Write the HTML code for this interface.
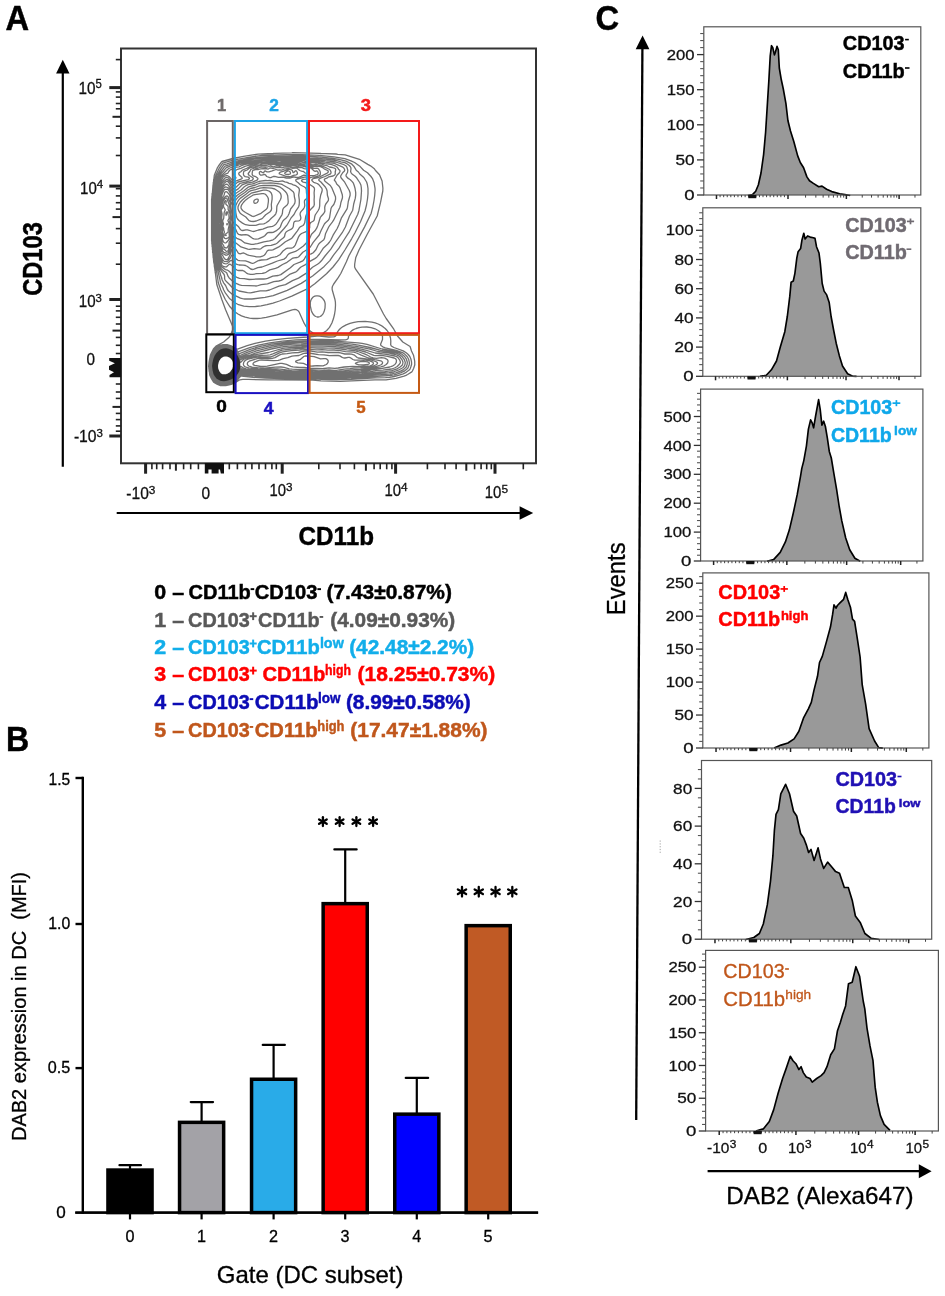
<!DOCTYPE html>
<html><head><meta charset="utf-8"><style>
html,body{margin:0;padding:0;background:#fff;width:945px;height:1296px;overflow:hidden}
svg{display:block;will-change:transform}
text{font-family:"Liberation Sans", sans-serif}
</style></head><body>
<svg width="945" height="1296" viewBox="0 0 945 1296">
<rect width="945" height="1296" fill="#fff"/>
<text x="5.60" y="29.80" font-size="34.16" fill="#000" stroke="#000" stroke-width="0.45" font-weight="bold" textLength="23.60" lengthAdjust="spacingAndGlyphs">A</text>
<line x1="62.80" y1="72.00" x2="62.80" y2="466.70" stroke="#000" stroke-width="2.2"/>
<path d="M56.1,73.5 L62.8,59.8 L69.5,73.5 Z" fill="#000" stroke="none" stroke-width="0"/>
<line x1="116.70" y1="513.00" x2="521.00" y2="513.00" stroke="#000" stroke-width="2.0"/>
<path d="M519.6,506.3 L533.2,513 L519.6,519.7 Z" fill="#000" stroke="none" stroke-width="0"/>
<rect x="121.00" y="48.50" width="415.00" height="414.80" fill="none" stroke="#333" stroke-width="2"/>
<line x1="109.30" y1="87.60" x2="121.00" y2="87.60" stroke="#222" stroke-width="3"/>
<line x1="109.30" y1="186.10" x2="121.00" y2="186.10" stroke="#222" stroke-width="3"/>
<line x1="109.30" y1="299.50" x2="121.00" y2="299.50" stroke="#222" stroke-width="3"/>
<line x1="109.30" y1="436.00" x2="121.00" y2="436.00" stroke="#222" stroke-width="3"/>
<line x1="112.50" y1="116.80" x2="121.00" y2="116.80" stroke="#222" stroke-width="2"/>
<line x1="112.50" y1="217.10" x2="121.00" y2="217.10" stroke="#222" stroke-width="2"/>
<line x1="112.50" y1="330.60" x2="121.00" y2="330.60" stroke="#222" stroke-width="2"/>
<line x1="112.50" y1="406.90" x2="121.00" y2="406.90" stroke="#222" stroke-width="2"/>
<line x1="115.80" y1="59.60" x2="121.00" y2="59.60" stroke="#222" stroke-width="1.6"/>
<line x1="115.80" y1="91.90" x2="121.00" y2="91.90" stroke="#222" stroke-width="1.6"/>
<line x1="115.80" y1="97.10" x2="121.00" y2="97.10" stroke="#222" stroke-width="1.6"/>
<line x1="115.80" y1="103.50" x2="121.00" y2="103.50" stroke="#222" stroke-width="1.6"/>
<line x1="115.80" y1="108.80" x2="121.00" y2="108.80" stroke="#222" stroke-width="1.6"/>
<line x1="115.80" y1="126.20" x2="121.00" y2="126.20" stroke="#222" stroke-width="1.6"/>
<line x1="115.80" y1="137.90" x2="121.00" y2="137.90" stroke="#222" stroke-width="1.6"/>
<line x1="115.80" y1="155.50" x2="121.00" y2="155.50" stroke="#222" stroke-width="1.6"/>
<line x1="115.80" y1="188.70" x2="121.00" y2="188.70" stroke="#222" stroke-width="1.6"/>
<line x1="115.80" y1="195.90" x2="121.00" y2="195.90" stroke="#222" stroke-width="1.6"/>
<line x1="115.80" y1="202.70" x2="121.00" y2="202.70" stroke="#222" stroke-width="1.6"/>
<line x1="115.80" y1="209.10" x2="121.00" y2="209.10" stroke="#222" stroke-width="1.6"/>
<line x1="115.80" y1="228.60" x2="121.00" y2="228.60" stroke="#222" stroke-width="1.6"/>
<line x1="115.80" y1="243.20" x2="121.00" y2="243.20" stroke="#222" stroke-width="1.6"/>
<line x1="115.80" y1="264.20" x2="121.00" y2="264.20" stroke="#222" stroke-width="1.6"/>
<line x1="115.80" y1="306.20" x2="121.00" y2="306.20" stroke="#222" stroke-width="1.6"/>
<line x1="115.80" y1="310.90" x2="121.00" y2="310.90" stroke="#222" stroke-width="1.6"/>
<line x1="115.80" y1="317.30" x2="121.00" y2="317.30" stroke="#222" stroke-width="1.6"/>
<line x1="115.80" y1="324.00" x2="121.00" y2="324.00" stroke="#222" stroke-width="1.6"/>
<line x1="115.80" y1="337.40" x2="121.00" y2="337.40" stroke="#222" stroke-width="1.6"/>
<line x1="115.80" y1="345.30" x2="121.00" y2="345.30" stroke="#222" stroke-width="1.6"/>
<line x1="115.80" y1="353.50" x2="121.00" y2="353.50" stroke="#222" stroke-width="1.6"/>
<line x1="115.80" y1="384.00" x2="121.00" y2="384.00" stroke="#222" stroke-width="1.6"/>
<line x1="115.80" y1="392.00" x2="121.00" y2="392.00" stroke="#222" stroke-width="1.6"/>
<line x1="115.80" y1="398.40" x2="121.00" y2="398.40" stroke="#222" stroke-width="1.6"/>
<line x1="115.80" y1="413.40" x2="121.00" y2="413.40" stroke="#222" stroke-width="1.6"/>
<line x1="115.80" y1="419.60" x2="121.00" y2="419.60" stroke="#222" stroke-width="1.6"/>
<line x1="115.80" y1="425.90" x2="121.00" y2="425.90" stroke="#222" stroke-width="1.6"/>
<line x1="115.80" y1="431.20" x2="121.00" y2="431.20" stroke="#222" stroke-width="1.6"/>
<path d="M121,357.9 L109.2,357.9 L109.2,360.8 L114.9,363.2 L109.0,365.9 L109.0,369.7 L114.0,372.2 L109.5,375.1 L109.5,377.3 L121,377.3 Z" fill="#111" stroke="none" stroke-width="0"/>
<line x1="145.60" y1="463.00" x2="145.60" y2="473.70" stroke="#222" stroke-width="3"/>
<line x1="282.20" y1="463.00" x2="282.20" y2="473.70" stroke="#222" stroke-width="3"/>
<line x1="395.60" y1="463.00" x2="395.60" y2="473.70" stroke="#222" stroke-width="3"/>
<line x1="495.00" y1="463.00" x2="495.00" y2="473.70" stroke="#222" stroke-width="3"/>
<line x1="175.90" y1="463.00" x2="175.90" y2="470.70" stroke="#222" stroke-width="2"/>
<line x1="365.90" y1="463.00" x2="365.90" y2="470.70" stroke="#222" stroke-width="2"/>
<line x1="466.30" y1="463.00" x2="466.30" y2="470.70" stroke="#222" stroke-width="2"/>
<line x1="151.90" y1="463.00" x2="151.90" y2="469.30" stroke="#222" stroke-width="1.6"/>
<line x1="156.70" y1="463.00" x2="156.70" y2="469.30" stroke="#222" stroke-width="1.6"/>
<line x1="162.60" y1="463.00" x2="162.60" y2="469.30" stroke="#222" stroke-width="1.6"/>
<line x1="170.00" y1="463.00" x2="170.00" y2="469.30" stroke="#222" stroke-width="1.6"/>
<line x1="183.60" y1="463.00" x2="183.60" y2="469.30" stroke="#222" stroke-width="1.6"/>
<line x1="190.70" y1="463.00" x2="190.70" y2="469.30" stroke="#222" stroke-width="1.6"/>
<line x1="198.40" y1="463.00" x2="198.40" y2="469.30" stroke="#222" stroke-width="1.6"/>
<line x1="229.30" y1="463.00" x2="229.30" y2="469.30" stroke="#222" stroke-width="1.6"/>
<line x1="237.40" y1="463.00" x2="237.40" y2="469.30" stroke="#222" stroke-width="1.6"/>
<line x1="245.40" y1="463.00" x2="245.40" y2="469.30" stroke="#222" stroke-width="1.6"/>
<line x1="251.90" y1="463.00" x2="251.90" y2="469.30" stroke="#222" stroke-width="1.6"/>
<line x1="259.00" y1="463.00" x2="259.00" y2="469.30" stroke="#222" stroke-width="1.6"/>
<line x1="265.50" y1="463.00" x2="265.50" y2="469.30" stroke="#222" stroke-width="1.6"/>
<line x1="271.90" y1="463.00" x2="271.90" y2="469.30" stroke="#222" stroke-width="1.6"/>
<line x1="276.30" y1="463.00" x2="276.30" y2="469.30" stroke="#222" stroke-width="1.6"/>
<line x1="318.80" y1="463.00" x2="318.80" y2="469.30" stroke="#222" stroke-width="1.6"/>
<line x1="340.00" y1="463.00" x2="340.00" y2="469.30" stroke="#222" stroke-width="1.6"/>
<line x1="354.40" y1="463.00" x2="354.40" y2="469.30" stroke="#222" stroke-width="1.6"/>
<line x1="374.10" y1="463.00" x2="374.10" y2="469.30" stroke="#222" stroke-width="1.6"/>
<line x1="380.20" y1="463.00" x2="380.20" y2="469.30" stroke="#222" stroke-width="1.6"/>
<line x1="386.70" y1="463.00" x2="386.70" y2="469.30" stroke="#222" stroke-width="1.6"/>
<line x1="391.90" y1="463.00" x2="391.90" y2="469.30" stroke="#222" stroke-width="1.6"/>
<line x1="427.40" y1="463.00" x2="427.40" y2="469.30" stroke="#222" stroke-width="1.6"/>
<line x1="445.00" y1="463.00" x2="445.00" y2="469.30" stroke="#222" stroke-width="1.6"/>
<line x1="456.10" y1="463.00" x2="456.10" y2="469.30" stroke="#222" stroke-width="1.6"/>
<line x1="474.60" y1="463.00" x2="474.60" y2="469.30" stroke="#222" stroke-width="1.6"/>
<line x1="481.10" y1="463.00" x2="481.10" y2="469.30" stroke="#222" stroke-width="1.6"/>
<line x1="486.70" y1="463.00" x2="486.70" y2="469.30" stroke="#222" stroke-width="1.6"/>
<line x1="491.30" y1="463.00" x2="491.30" y2="469.30" stroke="#222" stroke-width="1.6"/>
<line x1="523.30" y1="463.00" x2="523.30" y2="469.30" stroke="#222" stroke-width="1.6"/>
<path d="M204.8,463 L224.0,463 L224.0,473.6 L220.8,473.6 L220.0,469.6 L218.6,469.6 L218.6,473.4 L211.6,473.4 L211.6,469.6 L208.4,469.6 L208.4,473.6 L204.8,473.6 Z" fill="#111" stroke="none" stroke-width="0"/>
<text x="78.60" y="94.00" font-size="17.01" fill="#111" stroke="#111" stroke-width="0.3" textLength="17.00" lengthAdjust="spacingAndGlyphs">10</text>
<text x="95.60" y="88.10" font-size="11.92" fill="#111" stroke="#111" stroke-width="0.3" textLength="6.30" lengthAdjust="spacingAndGlyphs">5</text>
<text x="80.10" y="193.90" font-size="17.01" fill="#111" stroke="#111" stroke-width="0.3" textLength="16.70" lengthAdjust="spacingAndGlyphs">10</text>
<text x="96.80" y="188.30" font-size="10.47" fill="#111" stroke="#111" stroke-width="0.3" textLength="6.40" lengthAdjust="spacingAndGlyphs">4</text>
<text x="78.80" y="306.90" font-size="17.01" fill="#111" stroke="#111" stroke-width="0.3" textLength="16.80" lengthAdjust="spacingAndGlyphs">10</text>
<text x="95.60" y="301.50" font-size="11.63" fill="#111" stroke="#111" stroke-width="0.3" textLength="6.30" lengthAdjust="spacingAndGlyphs">3</text>
<text x="86.40" y="365.00" font-size="17.01" fill="#111" stroke="#111" stroke-width="0.3" textLength="8.50" lengthAdjust="spacingAndGlyphs">0</text>
<text x="73.90" y="441.80" font-size="17.01" fill="#111" stroke="#111" stroke-width="0.3" textLength="22.70" lengthAdjust="spacingAndGlyphs">-10</text>
<text x="96.60" y="436.50" font-size="11.63" fill="#111" stroke="#111" stroke-width="0.3" textLength="6.40" lengthAdjust="spacingAndGlyphs">3</text>
<text x="126.30" y="498.90" font-size="17.01" fill="#111" stroke="#111" stroke-width="0.3" textLength="22.50" lengthAdjust="spacingAndGlyphs">-10</text>
<text x="148.80" y="493.50" font-size="11.63" fill="#111" stroke="#111" stroke-width="0.3" textLength="6.60" lengthAdjust="spacingAndGlyphs">3</text>
<text x="201.60" y="498.90" font-size="17.01" fill="#111" stroke="#111" stroke-width="0.3" textLength="8.60" lengthAdjust="spacingAndGlyphs">0</text>
<text x="269.60" y="496.20" font-size="17.01" fill="#111" stroke="#111" stroke-width="0.3" textLength="16.50" lengthAdjust="spacingAndGlyphs">10</text>
<text x="286.10" y="490.80" font-size="11.63" fill="#111" stroke="#111" stroke-width="0.3" textLength="6.50" lengthAdjust="spacingAndGlyphs">3</text>
<text x="384.40" y="496.00" font-size="17.01" fill="#111" stroke="#111" stroke-width="0.3" textLength="16.60" lengthAdjust="spacingAndGlyphs">10</text>
<text x="401.00" y="490.50" font-size="10.47" fill="#111" stroke="#111" stroke-width="0.3" textLength="6.60" lengthAdjust="spacingAndGlyphs">4</text>
<text x="484.80" y="497.80" font-size="17.01" fill="#111" stroke="#111" stroke-width="0.3" textLength="16.60" lengthAdjust="spacingAndGlyphs">10</text>
<text x="501.40" y="492.50" font-size="11.63" fill="#111" stroke="#111" stroke-width="0.3" textLength="6.60" lengthAdjust="spacingAndGlyphs">5</text>
<text x="298.60" y="544.80" font-size="25.87" fill="#000" stroke="#000" stroke-width="0.45" font-weight="bold" textLength="75.40" lengthAdjust="spacingAndGlyphs">CD11b</text>
<text x="41.60" y="295.80" font-size="27.18" fill="#000" stroke="#000" stroke-width="0.45" font-weight="bold" textLength="73.60" lengthAdjust="spacingAndGlyphs" transform="rotate(-90 41.60 295.80)">CD103</text>
<g fill="none" stroke="#707070" stroke-width="1.3" stroke-linejoin="round">
<path d="M225.8,385.5 L220.5,385.7 L217.0,384.2 L213.6,382.2 L211.6,379.0 L209.7,375.0 L209.4,371.8 L209.1,371.2 L209.1,369.5 L208.9,369.0 L208.9,367.2 L208.6,366.8 L209.1,361.8 L210.4,355.0 L213.4,349.0 L216.0,346.1 L223.6,342.0 L229.1,337.2 L229.8,336.2 L232.0,331.5 L232.8,329.8 L233.0,328.5 L232.9,327.2 L232.3,325.5 L225.6,309.8 L221.9,299.8 L216.8,284.5 L215.4,273.2 L215.2,272.5 L215.1,271.0 L214.9,270.2 L214.8,268.8 L214.3,266.2 L214.3,264.5 L213.7,262.0 L213.4,258.2 L213.2,257.8 L212.9,253.0 L212.6,252.5 L212.6,250.0 L212.4,249.5 L212.4,247.2 L212.1,246.8 L212.1,244.5 L211.8,244.0 L211.8,241.5 L211.6,241.0 L211.6,199.0 L211.8,198.5 L211.9,196.2 L212.1,195.8 L212.1,193.5 L212.4,193.0 L213.0,185.0 L213.2,184.5 L213.3,182.2 L213.6,181.8 L213.6,179.8 L213.9,179.0 L214.3,175.2 L217.2,168.2 L218.5,166.0 L221.5,161.8 L222.0,161.5 L232.8,158.5 L243.5,156.4 L258.0,154.1 L273.2,153.5 L274.0,153.3 L291.8,152.9 L292.8,152.7 L319.8,153.3 L320.8,153.5 L325.2,153.7 L336.0,154.0 L337.8,154.3 L345.2,154.8 L360.2,159.7 L367.8,164.4 L370.5,165.8 L374.0,168.4 L375.3,170.2 L379.5,174.8 L382.1,181.0 L382.9,188.2 L382.8,191.0 L380.6,202.2 L377.2,216.0 L367.1,234.5 L359.0,250.0 L355.7,257.8 L354.7,264.0 L354.6,267.0 L355.6,269.2 L373.2,294.0 L383.5,314.0 L386.2,318.5 L393.8,329.2 L397.5,336.0 L402.8,342.0 L410.1,346.5 L411.5,351.0 L413.5,355.2 L414.7,361.2 L414.8,364.8 L413.7,368.2 L412.4,371.0 L411.8,371.9 L407.6,374.5 L406.0,375.4 L404.0,376.1 L396.0,378.4 L386.0,379.9 L375.0,379.9 L340.2,381.3 L321.0,380.8 L312.8,380.2 L276.0,379.8 L269.0,379.9 L248.5,379.4 L242.8,379.4 L239.8,379.8 L234.8,382.9 L232.2,384.0 L228.0,385.2 L225.8,385.5 M318.8,334.3 L316.2,334.1 L313.2,333.0 L310.5,331.2 L308.0,328.9 L306.0,326.3 L304.1,323.2 L299.2,312.2 L298.0,310.7 L296.5,309.7 L294.8,309.4 L292.2,309.8 L277.0,314.9 L266.2,317.4 L261.5,318.1 L257.2,318.5 L253.2,318.5 L249.5,318.1 L245.2,317.2 L241.5,315.9 L238.0,314.0 L235.1,312.0 L233.4,310.5 L230.0,306.8 L225.3,299.5 L220.8,290.0 L218.3,282.8 L217.2,275.0 L215.4,265.8 L214.0,257.5 L213.0,247.2 L212.8,246.5 L212.8,244.5 L212.5,243.8 L212.5,241.5 L212.2,240.8 L212.2,199.2 L212.5,198.5 L212.5,196.5 L212.8,195.8 L213.9,185.5 L215.7,175.5 L219.4,167.8 L222.7,163.2 L233.0,160.1 L249.8,157.1 L258.5,155.8 L262.2,155.5 L287.0,154.6 L302.2,154.6 L319.2,155.4 L334.0,156.8 L344.8,158.7 L351.0,160.8 L354.6,162.5 L360.2,166.6 L363.6,170.2 L367.5,172.8 L371.0,176.5 L372.5,178.6 L374.1,182.8 L375.0,188.2 L375.1,190.2 L374.7,195.5 L374.0,200.5 L372.8,206.8 L371.1,213.5 L364.5,227.1 L348.9,255.8 L346.4,261.8 L340.8,273.5 L338.2,277.7 L333.7,284.0 L332.5,286.2 L332.1,288.0 L332.2,289.8 L334.9,299.2 L335.4,302.2 L335.5,305.2 L335.2,310.0 L334.5,314.5 L333.4,318.8 L331.9,323.0 L329.5,327.4 L326.5,330.7 L322.8,333.1 L320.8,333.9 L318.8,334.3 M225.5,384.6 L220.8,384.6 L217.8,383.4 L214.5,381.7 L213.5,380.4 L211.3,376.5 L210.5,374.8 L210.1,373.2 L209.2,365.8 L210.8,356.5 L212.4,352.8 L214.6,349.2 L216.8,347.0 L218.8,345.9 L220.8,345.1 L223.0,344.6 L227.2,344.7 L231.2,345.9 L236.2,348.8 L237.5,349.1 L247.2,345.6 L255.0,343.4 L265.5,341.2 L275.8,339.6 L287.2,338.4 L307.4,337.0 L317.0,336.0 L319.5,336.1 L328.8,337.0 L333.8,336.8 L335.0,336.4 L335.9,335.8 L337.4,332.2 L338.5,330.5 L340.4,328.5 L343.0,326.6 L346.2,324.9 L350.0,323.4 L354.0,322.3 L358.2,321.6 L365.2,321.3 L372.0,322.1 L375.2,322.9 L378.2,324.0 L380.8,325.3 L383.2,326.9 L385.2,328.5 L387.1,330.5 L388.5,332.5 L389.6,334.8 L390.5,338.0 L390.8,341.0 L390.7,344.8 L391.3,346.0 L393.9,347.5 L403.2,350.9 L406.2,352.8 L408.2,354.5 L409.8,356.5 L410.9,359.0 L411.5,361.8 L411.6,364.2 L410.8,367.0 L410.0,369.0 L409.5,369.8 L406.2,372.3 L403.2,373.8 L398.5,375.4 L394.2,376.5 L389.5,377.3 L385.5,377.6 L375.2,377.8 L351.2,379.4 L336.8,379.7 L321.5,379.4 L312.8,378.9 L291.8,378.8 L265.5,378.1 L253.0,377.4 L241.5,376.0 L240.5,376.4 L237.5,379.7 L234.5,381.9 L232.0,383.0 L229.2,383.9 L225.5,384.6 M255.5,306.5 L249.2,306.7 L243.8,306.2 L238.5,304.7 L235.0,302.8 L229.8,298.8 L225.5,293.2 L223.6,289.8 L222.9,287.8 L221.3,284.5 L220.4,282.2 L219.8,279.0 L217.8,270.5 L216.8,267.5 L215.5,261.5 L213.7,249.0 L212.8,240.5 L212.7,215.8 L212.9,199.5 L214.7,185.5 L215.7,180.2 L216.9,175.8 L220.8,168.9 L223.8,164.7 L227.0,163.9 L232.5,161.8 L250.0,158.5 L258.8,157.3 L268.8,156.6 L293.5,155.9 L302.0,156.0 L319.0,156.9 L333.2,158.5 L338.8,159.4 L346.0,161.2 L351.4,163.8 L353.8,166.2 L356.2,170.2 L358.4,172.0 L359.8,174.0 L363.8,177.5 L366.6,182.0 L367.3,184.2 L368.0,188.5 L368.0,193.8 L367.5,199.0 L366.5,205.0 L365.0,211.0 L360.5,221.8 L355.1,232.5 L351.6,238.8 L345.2,249.5 L338.6,259.8 L333.0,267.0 L326.5,273.8 L314.8,283.8 L311.0,286.6 L307.8,288.6 L291.8,296.2 L279.5,301.0 L273.0,303.1 L267.0,304.6 L261.0,305.8 L255.5,306.5 M318.8,317.0 L317.2,317.0 L315.8,316.5 L314.5,315.7 L313.2,314.3 L312.2,312.7 L311.3,310.5 L310.3,305.8 L310.3,302.2 L310.8,300.5 L311.5,299.0 L312.4,297.8 L313.5,296.8 L314.8,296.1 L316.2,295.8 L317.8,295.8 L319.5,296.2 L321.0,296.9 L322.2,297.9 L324.2,300.5 L324.8,302.0 L325.2,303.8 L325.0,308.2 L324.4,310.5 L323.7,312.5 L322.8,314.1 L321.5,315.6 L320.2,316.5 L318.8,317.0 M225.8,383.8 L221.0,383.9 L218.2,382.8 L215.0,381.1 L213.1,378.5 L211.2,374.8 L210.3,370.8 L209.8,366.0 L210.6,360.5 L211.8,355.5 L213.8,351.8 L215.5,349.5 L217.5,347.5 L219.8,346.3 L222.0,345.6 L224.2,345.2 L226.8,345.3 L229.0,345.8 L233.0,347.6 L237.8,351.3 L238.8,351.7 L249.0,347.9 L258.5,345.2 L269.8,342.9 L282.5,341.1 L296.0,339.9 L310.0,339.3 L321.8,339.3 L340.5,340.0 L345.5,339.8 L347.0,339.4 L348.0,338.8 L348.3,338.0 L348.5,335.5 L348.9,334.0 L349.9,332.5 L351.5,330.9 L353.5,329.6 L356.1,328.5 L359.0,327.7 L362.0,327.2 L366.8,327.0 L371.2,327.6 L375.1,328.8 L378.5,330.7 L380.0,331.9 L381.3,333.5 L382.5,336.2 L382.5,339.5 L380.6,344.2 L380.7,345.0 L381.3,345.8 L382.8,346.8 L385.3,347.8 L396.2,350.3 L402.5,352.6 L405.2,354.6 L407.1,356.5 L408.6,359.2 L409.3,362.2 L409.4,363.5 L409.1,365.0 L407.8,368.2 L404.3,371.2 L401.0,372.7 L397.0,374.1 L394.0,374.9 L390.0,375.5 L377.0,376.3 L360.5,377.7 L346.2,378.4 L337.0,378.5 L271.5,377.1 L259.0,376.6 L249.8,375.7 L241.5,374.6 L240.5,375.1 L238.7,377.5 L237.3,379.0 L234.5,381.0 L230.2,382.8 L227.5,383.6 L225.8,383.8 M252.0,299.0 L244.8,299.0 L242.5,298.7 L240.5,298.2 L232.5,294.4 L228.5,291.0 L227.4,289.5 L225.6,285.5 L223.8,283.1 L222.2,280.0 L221.4,277.0 L220.8,275.8 L220.0,272.5 L217.8,267.2 L216.3,261.2 L214.8,251.8 L213.4,240.2 L213.2,215.8 L213.4,199.8 L215.5,185.8 L217.4,177.8 L219.3,174.0 L224.4,166.8 L225.0,166.1 L227.5,165.5 L232.0,163.7 L236.0,162.6 L244.5,160.8 L254.5,159.2 L262.8,158.2 L269.0,157.9 L293.5,157.2 L302.0,157.3 L310.0,158.0 L317.0,158.1 L333.0,160.0 L337.8,160.9 L340.8,161.8 L344.8,162.6 L346.2,163.3 L349.0,165.2 L350.2,166.5 L350.9,167.8 L351.0,169.0 L350.6,171.5 L351.1,172.8 L352.0,173.9 L354.8,176.0 L356.6,177.8 L359.7,182.5 L360.9,185.0 L361.3,187.5 L361.5,191.0 L360.9,199.5 L359.0,210.2 L357.8,214.2 L349.0,232.2 L343.0,241.5 L339.0,248.2 L333.5,255.2 L329.8,260.6 L324.2,266.4 L312.6,276.0 L301.2,283.4 L287.2,290.3 L273.2,295.6 L265.0,297.4 L252.0,299.0 M225.0,383.3 L221.0,383.3 L218.0,382.0 L215.2,380.5 L213.7,378.2 L211.6,374.5 L210.8,370.8 L210.3,366.2 L210.7,362.2 L211.9,357.0 L212.4,355.5 L214.4,352.0 L216.1,349.8 L218.2,347.8 L221.0,346.5 L223.8,345.9 L225.8,345.8 L227.8,346.1 L231.5,347.4 L234.8,349.5 L238.5,353.2 L239.5,353.7 L250.2,349.4 L259.2,346.7 L271.2,344.1 L287.8,342.0 L306.2,340.8 L320.8,340.7 L335.0,341.2 L358.0,342.9 L362.0,343.4 L367.0,344.4 L382.0,349.0 L393.0,351.0 L399.0,352.7 L401.6,354.0 L404.6,356.5 L406.4,359.2 L407.3,362.2 L407.2,364.2 L406.2,367.0 L403.5,369.6 L400.5,371.1 L395.8,372.9 L392.5,373.7 L389.5,374.1 L377.8,374.9 L361.0,376.6 L346.2,377.4 L337.2,377.5 L328.5,377.1 L321.8,377.4 L310.2,376.9 L301.8,377.0 L291.5,376.8 L271.2,376.0 L258.8,375.4 L241.5,373.3 L240.5,373.9 L238.8,376.5 L237.5,378.0 L236.0,379.3 L234.2,380.5 L231.8,381.6 L229.0,382.6 L225.0,383.3 M250.5,292.8 L247.5,292.7 L239.0,291.0 L233.5,288.4 L232.0,287.3 L229.5,284.5 L226.1,281.2 L225.0,279.8 L224.6,278.5 L224.6,276.2 L224.1,274.5 L219.9,269.2 L218.8,267.0 L217.2,261.0 L215.5,251.8 L214.0,240.2 L213.7,222.5 L213.9,202.8 L214.0,199.8 L216.3,186.0 L218.4,178.0 L220.5,174.4 L221.5,173.1 L223.4,171.2 L226.0,167.9 L232.2,165.2 L236.2,164.0 L244.5,162.0 L263.0,159.3 L273.5,159.0 L281.5,158.5 L286.0,158.6 L293.8,158.4 L301.8,158.5 L310.2,159.2 L316.8,159.3 L325.5,160.7 L335.5,162.0 L344.0,164.7 L345.8,165.7 L346.9,167.2 L347.8,170.2 L347.5,172.5 L346.0,175.0 L346.1,176.0 L347.5,177.9 L350.3,179.8 L352.2,181.6 L353.4,183.2 L354.3,185.8 L355.0,188.2 L355.7,192.5 L355.7,194.8 L355.3,198.2 L353.7,204.0 L352.7,210.2 L349.5,216.0 L345.4,227.0 L342.2,232.7 L334.0,244.2 L330.8,249.2 L325.0,256.0 L321.4,260.8 L319.5,262.7 L317.5,264.2 L312.5,267.3 L306.0,273.4 L298.5,278.1 L292.5,280.6 L285.5,284.6 L279.0,286.2 L269.5,290.0 L266.0,290.8 L260.2,290.9 L250.5,292.8 M226.2,382.5 L224.8,382.7 L221.0,382.7 L218.2,381.6 L215.8,380.2 L214.2,378.2 L212.1,374.2 L211.2,370.5 L210.7,366.2 L211.2,362.2 L212.4,357.0 L212.9,355.8 L214.9,352.2 L216.7,350.0 L218.8,348.2 L221.5,347.0 L224.0,346.5 L226.0,346.4 L228.0,346.7 L230.0,347.3 L232.0,348.2 L235.5,350.8 L239.2,355.1 L240.0,355.5 L246.5,352.6 L256.1,349.2 L270.0,345.8 L282.5,343.9 L293.5,342.8 L310.2,341.9 L324.5,342.0 L337.5,342.7 L352.0,344.1 L358.5,345.1 L370.0,347.5 L380.8,350.4 L390.5,352.0 L396.2,353.2 L399.8,354.7 L402.3,356.8 L404.3,359.5 L405.3,362.5 L405.1,364.0 L404.5,365.8 L402.8,367.7 L398.2,370.2 L393.2,372.0 L389.2,372.6 L377.2,373.5 L362.0,375.4 L350.8,376.1 L337.2,376.6 L328.5,376.2 L322.0,376.5 L309.5,375.9 L301.5,376.1 L291.0,375.9 L266.8,374.5 L258.8,374.3 L241.2,372.2 L240.5,372.8 L238.0,376.6 L235.5,379.0 L231.5,381.1 L228.8,382.1 L226.2,382.5 M256.8,286.0 L241.5,285.3 L239.5,284.8 L235.5,283.2 L232.1,280.8 L229.0,277.7 L228.0,276.2 L226.8,273.0 L226.0,272.2 L224.2,271.2 L221.5,269.1 L220.0,267.0 L219.3,265.2 L218.7,262.0 L217.5,258.8 L216.6,254.2 L214.6,240.2 L214.3,222.8 L214.4,203.8 L214.6,199.8 L216.5,188.8 L218.7,180.5 L219.6,178.0 L220.8,176.0 L221.8,174.9 L223.8,173.2 L227.5,169.5 L228.8,168.5 L235.8,165.5 L238.8,165.0 L244.8,163.2 L263.0,160.4 L273.8,160.2 L281.5,159.5 L286.5,159.7 L293.8,159.5 L301.0,159.6 L310.0,160.3 L317.5,160.5 L325.2,162.2 L334.2,163.4 L342.3,166.8 L344.0,168.2 L344.6,169.5 L344.7,170.5 L344.3,171.2 L342.8,172.6 L341.2,175.0 L340.7,176.0 L340.7,177.0 L341.2,178.0 L344.7,182.2 L349.3,190.5 L350.1,193.0 L350.1,195.2 L348.3,201.5 L347.5,207.2 L346.9,209.2 L341.3,218.2 L338.9,224.8 L337.2,228.5 L333.1,235.2 L330.8,240.0 L329.5,242.0 L327.8,244.0 L323.5,247.9 L319.5,254.0 L316.8,257.2 L314.8,258.6 L309.8,261.4 L305.5,264.6 L301.0,267.0 L299.8,268.0 L297.3,270.8 L296.0,271.8 L290.2,274.1 L283.5,279.1 L281.0,280.4 L278.8,281.0 L273.8,281.7 L267.5,283.8 L261.2,284.7 L256.8,286.0 M226.2,382.0 L224.5,382.2 L221.0,382.1 L218.0,380.9 L216.0,379.8 L214.7,378.0 L212.6,374.2 L211.7,370.5 L211.2,366.2 L211.6,362.5 L212.4,358.8 L213.4,355.8 L215.4,352.5 L217.3,350.2 L219.4,348.5 L222.0,347.5 L224.2,347.0 L226.2,346.9 L228.2,347.2 L230.2,347.9 L232.5,349.1 L235.9,351.8 L237.4,353.5 L239.5,356.5 L240.2,356.9 L245.8,354.6 L256.5,350.9 L270.5,347.3 L283.1,345.2 L293.0,344.2 L301.0,344.0 L310.8,343.2 L324.0,343.3 L336.0,343.9 L356.2,346.3 L369.9,349.2 L377.8,351.5 L389.2,353.2 L395.5,354.5 L398.2,355.6 L400.0,357.0 L402.1,359.8 L403.0,362.2 L402.6,364.5 L401.8,365.6 L400.1,367.0 L396.3,369.2 L391.8,370.7 L384.8,371.6 L376.5,372.1 L361.5,374.3 L341.2,375.6 L337.5,375.7 L328.5,375.2 L322.0,375.6 L318.2,375.6 L309.2,375.0 L301.2,375.2 L291.2,375.0 L268.8,373.5 L258.8,373.3 L249.0,372.3 L241.2,371.1 L240.5,371.6 L238.0,375.8 L235.5,378.3 L231.5,380.6 L228.8,381.5 L226.2,382.0 M252.8,279.3 L249.2,279.5 L244.2,278.6 L239.5,278.4 L237.5,277.7 L233.0,275.1 L232.0,274.3 L230.5,272.5 L228.5,270.7 L227.6,270.2 L225.5,269.6 L221.4,266.8 L220.4,265.0 L219.6,261.5 L218.4,258.8 L216.3,248.5 L215.1,240.0 L214.8,222.8 L215.0,203.5 L215.2,200.0 L216.1,196.0 L217.2,188.8 L219.7,180.8 L221.7,176.8 L222.8,175.8 L225.2,174.2 L227.8,173.2 L228.7,171.5 L230.0,170.0 L231.0,169.5 L233.8,168.9 L236.2,167.2 L239.2,166.9 L242.2,165.3 L245.0,164.4 L251.5,163.5 L260.2,161.8 L273.8,161.3 L281.8,160.6 L286.5,160.9 L300.0,160.7 L305.5,161.3 L314.5,161.8 L317.5,161.8 L324.8,163.6 L327.2,163.8 L331.8,164.7 L335.0,165.8 L336.9,167.0 L337.7,167.8 L338.8,169.6 L339.9,170.5 L340.0,171.5 L339.4,172.8 L337.0,175.3 L334.3,180.0 L335.7,181.8 L336.7,184.0 L339.0,186.2 L340.0,187.8 L342.3,194.8 L342.5,196.5 L342.4,198.0 L340.9,202.5 L340.3,206.0 L339.8,207.5 L333.6,220.2 L332.3,222.2 L329.8,225.3 L328.7,227.0 L325.5,233.8 L324.5,238.3 L323.8,239.8 L320.0,242.8 L318.8,244.0 L317.9,245.5 L315.9,249.8 L313.2,252.7 L311.2,253.9 L308.0,254.7 L306.8,255.2 L305.8,256.4 L304.1,259.5 L302.8,260.8 L300.0,262.2 L294.0,264.5 L290.4,267.8 L280.8,274.6 L278.2,275.5 L272.8,276.2 L267.5,278.3 L265.5,278.8 L263.8,279.0 L259.2,278.8 L252.8,279.3 M224.5,381.8 L221.0,381.6 L216.4,379.5 L214.2,376.2 L212.9,374.0 L212.1,370.5 L211.6,366.0 L212.0,362.5 L212.8,358.8 L213.8,356.0 L215.8,352.8 L217.8,350.5 L219.8,349.0 L222.0,348.0 L224.5,347.5 L226.8,347.5 L228.8,347.9 L231.0,348.8 L233.2,350.2 L236.4,353.0 L239.5,357.7 L240.2,358.2 L245.0,356.2 L250.6,354.8 L256.2,352.9 L271.2,349.0 L283.5,346.7 L292.2,345.8 L301.2,345.5 L310.8,344.6 L323.5,344.6 L335.0,345.2 L356.0,347.8 L366.5,350.3 L375.2,353.0 L386.5,354.4 L394.8,356.0 L396.9,356.8 L398.1,357.8 L399.6,359.8 L400.4,362.0 L400.3,362.8 L399.6,364.0 L397.2,366.5 L394.5,368.0 L391.5,369.0 L382.8,370.2 L376.5,370.4 L372.5,371.3 L361.2,373.2 L341.2,374.6 L337.5,374.8 L328.5,374.3 L322.2,374.7 L318.5,374.7 L309.2,374.1 L301.0,374.2 L291.5,374.0 L269.0,372.4 L261.8,372.5 L258.5,372.3 L248.0,371.2 L241.0,370.0 L240.5,370.4 L237.8,375.2 L236.2,377.0 L234.7,378.2 L232.5,379.6 L229.8,380.7 L227.2,381.4 L224.5,381.8 M253.0,274.3 L250.5,274.4 L248.2,273.9 L246.5,273.1 L244.0,271.1 L242.8,270.5 L238.8,270.5 L237.0,270.1 L235.8,269.2 L233.0,266.3 L230.2,264.2 L229.5,264.2 L228.8,264.6 L226.6,266.8 L225.0,266.8 L223.5,266.5 L222.3,265.8 L221.7,265.0 L220.7,261.0 L219.4,258.5 L218.1,254.0 L216.5,245.8 L215.7,240.0 L215.3,222.8 L215.5,203.8 L215.9,200.0 L216.8,196.0 L217.9,189.0 L220.6,181.2 L222.1,179.2 L223.0,177.2 L224.0,176.5 L225.5,175.9 L226.5,175.6 L227.5,175.7 L229.5,176.9 L232.0,179.8 L232.5,180.1 L233.2,180.0 L235.6,178.5 L235.9,178.0 L235.8,177.5 L234.5,175.8 L234.1,174.5 L234.5,171.8 L234.9,171.0 L235.9,170.2 L237.5,169.3 L240.8,168.3 L245.6,166.2 L256.8,163.5 L259.5,163.0 L275.5,162.1 L279.5,162.3 L283.8,162.0 L293.2,162.0 L298.5,161.7 L302.8,162.4 L317.5,163.2 L321.8,164.2 L324.2,165.2 L326.8,165.5 L329.5,167.0 L332.5,167.5 L335.0,168.3 L335.6,169.0 L335.7,169.8 L335.2,172.0 L335.3,174.0 L334.7,175.0 L333.0,176.0 L328.8,176.8 L326.8,178.2 L324.8,178.8 L324.3,179.5 L324.5,180.4 L325.0,181.2 L330.3,185.5 L332.0,188.2 L335.5,196.8 L335.6,199.0 L335.0,201.6 L333.8,204.5 L331.6,207.2 L331.0,208.5 L329.6,217.5 L329.0,219.2 L328.0,220.6 L325.5,222.8 L324.4,224.0 L321.1,230.5 L319.2,235.0 L313.2,242.3 L310.3,247.0 L308.5,248.7 L302.8,252.3 L298.5,257.0 L297.2,257.5 L294.0,257.8 L292.2,258.4 L287.0,262.3 L282.5,264.5 L278.0,267.4 L275.5,268.4 L269.8,269.9 L266.0,272.3 L264.2,273.0 L262.2,273.4 L256.5,273.7 L253.0,274.3 M224.8,381.3 L221.2,381.2 L218.8,380.2 L216.8,379.1 L214.5,376.0 L213.4,374.0 L212.4,370.2 L212.0,366.2 L212.4,362.5 L213.2,359.0 L214.2,356.1 L215.5,354.0 L217.2,351.7 L219.5,349.7 L221.8,348.7 L224.5,348.0 L226.8,348.0 L229.0,348.5 L231.2,349.5 L233.8,351.1 L235.5,352.6 L236.9,354.2 L239.8,359.4 L240.2,359.9 L243.8,357.9 L246.2,357.0 L257.0,354.4 L268.5,352.5 L282.8,348.4 L291.5,347.4 L301.5,347.0 L308.5,346.2 L322.5,346.1 L335.2,346.7 L355.8,349.3 L365.7,352.0 L373.8,355.4 L375.5,355.6 L380.2,355.4 L383.2,355.6 L387.5,356.3 L394.2,358.0 L395.8,358.8 L396.5,360.5 L396.2,362.6 L394.9,364.5 L392.2,366.2 L389.8,367.0 L382.2,368.4 L376.0,369.0 L372.0,369.9 L361.2,372.0 L337.8,373.8 L328.8,373.3 L322.2,373.8 L318.5,373.8 L309.0,373.1 L300.8,373.3 L292.8,373.1 L283.2,372.2 L269.2,371.3 L260.8,371.4 L247.8,370.2 L244.0,369.5 L241.0,368.6 L240.2,369.4 L239.2,372.0 L238.0,374.2 L236.5,376.0 L235.0,377.4 L232.5,379.1 L229.8,380.2 L227.2,380.9 L224.8,381.3 M252.5,269.5 L250.7,269.0 L247.4,266.5 L245.5,265.5 L243.2,265.1 L239.0,265.0 L237.0,264.4 L235.8,263.7 L232.5,261.0 L231.5,260.5 L230.8,260.5 L230.2,260.8 L228.6,262.5 L227.2,263.5 L226.0,263.9 L224.8,263.7 L223.2,263.1 L222.5,262.4 L221.6,260.0 L220.5,258.2 L219.9,256.5 L218.9,253.5 L217.1,245.5 L216.4,239.8 L215.8,222.8 L216.0,204.2 L216.5,200.2 L217.5,196.0 L218.0,192.0 L218.6,189.2 L220.6,183.8 L221.8,181.5 L223.4,180.0 L224.9,178.0 L225.8,177.6 L227.0,177.5 L228.0,177.8 L229.0,178.6 L232.2,182.5 L232.8,182.7 L233.2,182.7 L236.3,180.8 L241.0,179.2 L242.1,178.5 L242.2,178.0 L241.8,177.2 L239.1,174.8 L238.7,173.8 L239.2,172.6 L240.8,171.7 L242.5,170.0 L246.0,168.7 L250.2,166.4 L257.0,164.8 L260.2,164.6 L262.8,164.1 L264.8,164.2 L267.2,163.7 L272.5,163.4 L276.2,163.3 L279.5,163.6 L283.5,163.1 L294.8,163.0 L298.0,162.8 L301.8,163.8 L309.2,164.0 L312.8,165.0 L316.0,164.4 L320.5,165.3 L322.0,165.8 L329.7,169.5 L330.4,170.5 L331.0,172.0 L331.0,173.0 L330.5,173.8 L325.0,176.5 L320.5,178.1 L319.2,179.0 L318.7,179.8 L319.0,180.5 L320.9,182.0 L325.3,187.0 L326.4,188.8 L327.1,191.0 L327.4,195.2 L328.5,198.8 L328.4,200.2 L327.9,201.2 L325.8,204.0 L325.1,205.5 L324.7,207.5 L324.9,211.0 L324.5,212.2 L323.7,213.5 L321.0,216.5 L320.2,217.7 L317.9,225.2 L316.7,228.2 L315.0,230.8 L311.5,234.3 L309.5,238.8 L307.0,242.2 L303.4,246.0 L297.5,250.3 L295.5,251.4 L290.2,253.1 L288.8,253.9 L287.7,255.0 L285.8,257.8 L284.0,259.1 L277.4,261.0 L272.3,263.2 L262.0,267.0 L257.8,267.7 L254.0,269.2 L252.5,269.5 M225.2,380.8 L221.2,380.7 L219.0,379.9 L217.0,378.8 L213.8,374.0 L212.8,370.2 L212.4,366.2 L212.7,362.8 L213.6,359.0 L214.6,356.2 L216.0,354.0 L217.8,351.9 L220.0,350.0 L222.0,349.1 L224.5,348.5 L227.0,348.5 L229.2,349.1 L232.0,350.4 L234.5,352.2 L236.2,354.0 L237.5,356.0 L238.6,358.0 L240.0,361.9 L240.5,362.5 L243.5,359.5 L246.5,358.1 L257.2,355.8 L261.8,355.3 L267.5,355.2 L270.0,354.8 L272.8,353.9 L280.0,350.8 L282.2,350.1 L291.2,349.0 L301.0,348.5 L309.0,347.7 L317.0,348.0 L322.8,347.8 L328.2,348.2 L334.2,348.2 L341.2,349.0 L346.8,349.9 L354.5,350.7 L357.8,351.5 L364.5,353.8 L366.7,354.8 L370.6,357.0 L373.2,357.9 L376.2,358.3 L381.5,357.7 L384.8,358.2 L386.1,358.8 L387.2,359.5 L387.8,360.2 L388.1,361.2 L387.6,363.0 L386.2,364.5 L384.2,365.8 L381.0,366.8 L376.0,367.7 L371.2,368.8 L360.8,370.7 L354.2,371.1 L337.8,372.8 L334.0,372.7 L329.0,372.3 L322.5,372.8 L318.8,372.8 L309.0,372.1 L300.2,372.2 L292.8,372.0 L282.8,370.9 L275.8,370.3 L269.0,370.2 L261.5,370.5 L259.2,370.4 L249.2,369.4 L246.2,368.9 L243.2,367.9 L240.8,366.4 L240.2,367.2 L239.4,370.2 L238.5,372.5 L237.2,374.4 L235.6,376.2 L233.8,377.8 L231.2,379.2 L228.5,380.2 L225.2,380.8 M253.5,263.3 L252.5,263.4 L251.5,263.2 L247.8,261.6 L245.5,260.9 L239.8,260.7 L238.0,260.3 L236.0,258.9 L233.8,255.5 L233.0,254.9 L232.5,254.8 L231.5,255.5 L230.3,258.0 L227.8,261.2 L226.5,261.7 L224.5,261.3 L223.7,261.0 L223.0,260.2 L219.9,253.8 L218.3,247.0 L217.7,245.5 L216.7,236.0 L216.3,222.8 L216.7,213.0 L216.5,209.0 L216.6,204.2 L217.7,197.8 L218.3,196.0 L218.8,192.0 L219.5,189.2 L221.8,184.0 L222.7,182.5 L225.8,179.9 L226.5,179.6 L227.5,179.7 L228.5,180.2 L229.6,181.2 L232.0,185.1 L232.8,185.7 L233.2,185.7 L234.2,185.2 L236.6,183.0 L238.0,182.0 L248.0,179.6 L249.2,179.0 L249.5,178.2 L248.4,177.2 L245.2,176.6 L244.0,175.8 L243.5,174.8 L243.4,173.8 L243.6,172.0 L244.0,171.2 L244.8,170.8 L247.2,170.0 L249.5,168.1 L250.5,167.6 L262.0,165.5 L265.0,165.7 L269.8,164.7 L271.2,164.6 L274.0,164.7 L276.5,164.6 L279.5,164.8 L283.5,164.2 L292.2,164.1 L297.5,164.4 L300.8,165.0 L303.5,165.2 L306.2,166.0 L309.0,165.4 L313.0,166.5 L316.0,166.0 L320.5,166.7 L322.0,167.3 L324.2,168.8 L327.6,170.5 L328.1,171.0 L328.3,171.8 L328.0,172.5 L327.2,173.1 L318.5,177.5 L313.2,178.5 L311.8,179.8 L311.8,180.2 L312.1,180.8 L313.6,182.2 L314.5,182.7 L317.2,183.5 L318.8,184.6 L321.5,187.8 L322.1,189.0 L322.2,190.2 L321.9,191.8 L320.7,195.0 L319.8,200.0 L319.7,205.8 L319.2,208.5 L318.2,210.5 L315.2,215.0 L314.7,216.8 L314.3,219.5 L313.9,220.5 L313.0,221.3 L310.8,222.5 L310.0,223.5 L309.7,224.8 L309.7,227.8 L309.0,229.1 L307.8,230.2 L305.5,231.9 L301.5,233.5 L299.8,234.9 L298.6,236.8 L295.4,244.8 L294.3,246.5 L293.1,247.5 L291.5,248.1 L287.8,248.1 L286.0,248.7 L283.0,251.0 L279.9,254.8 L277.2,256.3 L275.2,256.9 L271.2,257.6 L266.8,259.7 L261.5,260.0 L258.9,260.5 L257.2,261.2 L253.5,263.3 M338.8,371.5 L334.2,371.6 L328.8,371.1 L322.5,371.7 L318.8,371.7 L313.2,371.1 L307.8,370.9 L300.0,371.0 L292.5,370.8 L289.5,370.5 L282.5,369.3 L277.2,368.9 L269.0,369.0 L261.5,369.4 L258.2,369.2 L249.5,368.2 L246.1,367.2 L244.7,366.5 L243.9,365.8 L243.4,364.8 L243.4,363.8 L243.7,362.5 L244.3,361.5 L245.2,360.5 L246.2,359.9 L248.0,359.2 L255.8,357.4 L260.2,356.8 L267.5,357.0 L270.6,356.8 L273.5,355.9 L279.5,352.8 L282.5,351.8 L291.2,350.7 L299.5,350.2 L308.0,349.3 L317.0,349.9 L322.2,349.7 L328.0,350.1 L334.0,350.0 L340.2,350.6 L345.5,351.6 L353.8,352.2 L356.5,353.0 L361.2,355.2 L368.3,358.0 L374.8,359.7 L380.8,360.8 L382.0,361.5 L382.6,362.5 L382.3,363.8 L380.7,365.0 L371.2,367.8 L360.5,369.3 L354.5,369.6 L338.8,371.5 M226.8,259.8 L225.5,259.5 L224.0,258.0 L222.7,255.5 L221.2,254.0 L220.6,253.0 L218.4,245.0 L217.1,230.5 L216.9,222.2 L217.3,213.2 L217.0,208.8 L217.3,203.0 L218.4,197.8 L219.0,196.0 L219.5,192.2 L220.4,189.2 L221.8,186.5 L224.2,183.2 L226.3,181.5 L227.0,181.3 L227.8,181.5 L228.5,182.2 L232.2,188.2 L232.8,188.7 L233.2,188.8 L234.2,188.4 L236.0,187.2 L239.9,183.5 L242.2,182.8 L251.8,180.4 L253.1,179.2 L253.3,178.2 L252.5,177.5 L249.3,175.5 L248.4,174.5 L248.2,173.5 L249.8,171.5 L250.8,169.5 L251.7,169.0 L255.2,167.9 L258.2,168.0 L261.4,167.0 L265.0,167.2 L267.5,167.0 L270.5,166.0 L273.5,166.8 L276.0,166.0 L280.5,166.0 L283.5,165.4 L286.2,165.5 L290.0,165.2 L298.8,166.0 L302.5,166.2 L306.2,167.2 L309.8,166.7 L313.8,168.3 L317.0,168.1 L317.8,168.3 L318.5,168.9 L319.8,170.8 L320.3,172.2 L320.3,174.5 L319.5,175.5 L317.2,176.4 L315.2,176.8 L313.0,176.9 L311.0,177.5 L309.0,177.8 L305.8,179.1 L303.2,179.3 L302.2,179.8 L301.5,180.5 L301.8,181.2 L303.2,182.1 L307.5,183.0 L313.2,186.8 L314.3,188.0 L314.5,189.2 L314.1,192.8 L314.3,196.5 L314.1,200.0 L314.3,204.5 L313.9,205.8 L313.3,206.8 L310.3,209.8 L306.2,215.0 L305.6,217.0 L304.7,222.8 L303.9,224.5 L303.0,225.5 L300.2,226.9 L299.3,227.8 L297.4,230.8 L292.0,238.0 L290.8,238.9 L285.4,241.8 L280.5,245.8 L278.8,246.9 L272.8,249.9 L271.5,250.2 L269.0,250.2 L267.8,250.5 L267.0,251.2 L265.4,254.0 L264.2,255.2 L262.5,256.2 L260.2,256.8 L256.5,256.8 L249.2,255.3 L247.5,254.8 L243.8,253.0 L242.5,253.1 L240.2,253.9 L239.2,253.7 L238.0,252.7 L236.7,250.5 L234.8,247.9 L234.0,247.3 L233.5,247.4 L232.8,248.0 L231.8,249.5 L230.8,253.2 L228.5,258.0 L227.5,259.4 L226.8,259.8 M336.5,370.3 L334.2,370.3 L328.8,369.8 L322.5,370.4 L305.5,369.5 L300.0,369.6 L292.2,369.2 L289.2,368.8 L284.0,367.3 L281.0,367.0 L275.5,367.2 L264.2,368.1 L261.0,368.2 L252.2,367.1 L249.9,366.5 L248.7,366.0 L247.9,365.2 L247.4,364.5 L247.3,363.5 L247.8,362.2 L249.2,361.2 L257.2,358.6 L260.5,358.2 L268.0,358.5 L272.2,358.3 L275.0,357.6 L279.8,354.9 L282.2,354.0 L287.2,353.6 L292.2,352.8 L298.5,352.5 L304.2,351.2 L307.2,351.0 L311.0,351.2 L317.5,352.1 L322.2,351.9 L328.2,352.5 L333.2,352.3 L338.1,352.5 L340.5,352.8 L344.8,354.0 L349.2,353.9 L351.5,354.1 L354.5,355.2 L357.2,357.5 L358.2,358.0 L366.0,358.9 L370.8,359.9 L375.5,361.5 L376.9,362.2 L377.5,363.0 L377.5,363.5 L377.1,364.0 L375.6,365.0 L372.5,366.4 L370.0,367.0 L360.5,367.9 L354.0,368.1 L350.0,368.7 L344.2,369.2 L336.5,370.3 M226.2,255.3 L222.7,253.5 L222.2,253.0 L220.1,248.0 L219.3,245.2 L217.7,231.2 L217.8,227.2 L217.4,222.8 L218.0,213.2 L217.6,208.2 L218.1,202.2 L219.1,197.8 L219.7,196.2 L220.3,192.8 L221.4,189.5 L223.0,186.8 L225.0,184.8 L226.2,184.1 L227.5,184.3 L230.5,188.0 L232.2,191.2 L233.0,191.8 L233.8,191.6 L238.2,188.9 L241.7,185.2 L242.8,184.7 L246.5,183.2 L252.5,182.1 L257.5,179.8 L258.0,178.8 L257.5,178.0 L255.8,176.7 L253.2,175.9 L252.4,175.0 L252.1,174.0 L252.5,171.0 L253.0,170.4 L253.8,170.0 L256.0,169.5 L258.5,169.5 L260.8,168.8 L265.5,168.5 L268.0,169.2 L270.2,167.8 L273.2,168.5 L276.0,167.6 L278.0,167.7 L279.8,167.4 L282.0,167.9 L284.0,167.1 L286.5,167.0 L288.5,166.4 L289.8,166.3 L292.8,167.1 L296.2,166.9 L299.5,167.7 L302.0,167.6 L304.2,168.7 L305.2,168.9 L306.8,168.8 L309.0,167.9 L310.0,167.8 L311.8,168.8 L314.5,171.2 L315.2,171.4 L316.5,170.8 L317.2,171.1 L318.0,172.2 L318.3,173.2 L318.1,174.0 L317.2,174.6 L314.8,175.4 L310.2,175.6 L307.0,177.0 L304.5,177.1 L297.5,179.0 L296.3,179.5 L295.7,180.0 L295.9,180.8 L296.5,181.5 L298.2,182.8 L300.0,184.5 L301.5,185.5 L304.5,187.0 L305.7,188.0 L306.3,189.5 L306.5,193.2 L307.9,195.8 L308.0,196.8 L307.5,197.8 L305.5,199.4 L304.6,200.5 L304.4,202.0 L304.8,205.5 L304.4,207.2 L303.6,208.8 L301.0,211.6 L300.2,213.0 L300.1,214.5 L300.9,217.8 L300.5,219.6 L300.0,220.2 L299.0,220.8 L295.5,221.1 L294.3,221.8 L293.7,223.0 L293.3,226.5 L292.6,228.0 L291.3,229.2 L287.5,231.0 L286.1,232.0 L285.2,233.5 L284.5,236.5 L283.5,237.8 L280.2,240.2 L277.3,243.0 L276.0,243.8 L271.2,245.4 L266.8,245.6 L265.0,246.0 L263.4,246.8 L260.8,248.8 L259.2,249.2 L254.2,248.7 L249.5,249.4 L247.8,249.1 L241.0,246.9 L235.6,242.8 L234.5,242.0 L233.8,241.8 L233.2,242.2 L232.8,243.1 L230.5,249.3 L229.5,253.3 L228.5,254.3 L226.2,255.3 M324.2,368.5 L322.8,368.7 L317.0,368.3 L310.2,368.3 L304.5,367.5 L299.8,367.5 L293.0,366.9 L290.8,366.3 L286.5,364.3 L282.0,363.3 L280.0,363.4 L267.2,366.1 L263.0,366.5 L260.8,366.5 L254.8,365.4 L253.4,364.8 L253.0,364.2 L253.0,363.8 L253.4,363.0 L254.5,362.1 L257.5,360.8 L259.5,360.2 L261.8,360.0 L273.8,360.7 L278.2,360.3 L280.0,359.9 L283.2,358.6 L287.8,357.7 L292.0,356.1 L294.0,355.8 L298.8,355.5 L303.8,353.4 L306.8,353.0 L311.8,353.5 L318.5,354.7 L324.0,354.9 L329.5,355.7 L335.5,355.3 L338.2,355.5 L339.8,355.9 L342.2,357.4 L343.8,358.0 L345.0,358.0 L348.2,357.3 L349.5,357.4 L350.5,357.8 L352.9,359.5 L354.8,360.1 L357.0,360.2 L364.0,359.9 L368.5,360.5 L372.1,361.8 L373.1,362.5 L373.5,363.2 L373.1,364.2 L372.0,365.1 L370.2,365.8 L367.5,366.2 L360.2,366.7 L352.8,366.4 L344.2,367.0 L338.2,368.0 L334.8,368.3 L329.0,367.8 L324.2,368.5 M290.5,178.0 L286.2,178.0 L283.0,177.1 L278.5,177.4 L274.8,176.3 L273.2,176.5 L270.8,177.6 L269.8,177.7 L266.7,176.5 L265.5,174.9 L264.8,174.5 L263.8,174.6 L261.8,175.2 L260.5,175.1 L259.5,174.0 L259.3,172.8 L259.6,172.0 L260.2,171.4 L261.0,171.6 L262.8,172.7 L263.5,172.8 L264.5,171.2 L265.0,170.9 L267.0,171.8 L269.0,171.8 L272.2,170.9 L276.0,169.5 L278.0,170.2 L279.5,169.9 L281.8,170.1 L284.5,168.9 L286.5,168.6 L288.5,167.8 L289.8,167.6 L292.8,168.4 L295.8,168.1 L296.9,168.2 L299.8,170.5 L301.5,171.2 L303.5,171.5 L305.2,173.0 L307.2,173.7 L307.8,174.2 L307.6,175.0 L307.0,175.4 L303.8,175.2 L301.2,176.4 L298.0,177.5 L296.5,177.5 L293.8,176.9 L290.5,178.0 M227.8,253.0 L226.2,253.1 L223.8,252.3 L222.6,250.8 L221.3,248.0 L220.1,244.8 L219.5,239.5 L219.6,237.0 L218.3,231.0 L218.5,227.5 L218.0,221.8 L218.8,214.0 L218.2,209.2 L218.7,203.0 L219.9,198.0 L220.6,196.2 L221.2,193.0 L222.7,189.5 L224.5,187.4 L225.2,187.0 L226.2,187.0 L228.2,187.9 L229.2,188.6 L230.1,190.0 L232.5,195.4 L233.0,195.9 L236.0,193.2 L241.3,189.8 L244.0,187.0 L246.5,185.3 L248.0,184.7 L252.5,183.9 L256.0,182.7 L258.8,181.5 L260.5,181.1 L265.5,180.5 L267.8,180.6 L270.0,180.3 L273.5,181.1 L278.2,181.6 L282.5,180.9 L284.8,181.9 L287.2,182.4 L289.0,183.4 L291.2,183.8 L293.2,184.9 L295.8,185.7 L298.6,187.8 L299.2,188.8 L299.4,190.2 L298.7,195.2 L299.3,199.8 L299.3,203.0 L299.1,205.2 L298.6,206.8 L295.9,210.8 L294.0,214.5 L290.9,218.2 L287.5,224.3 L284.1,228.5 L275.0,238.5 L273.0,239.8 L269.5,240.9 L263.8,241.8 L257.5,243.6 L253.2,244.3 L251.2,244.4 L244.8,242.9 L241.3,240.2 L236.8,238.3 L234.2,236.3 L233.8,236.3 L233.2,236.9 L232.6,238.8 L231.1,245.0 L229.9,247.8 L228.9,251.5 L228.4,252.5 L227.8,253.0 M313.0,366.0 L311.2,366.2 L309.5,366.0 L307.9,365.5 L303.5,363.4 L297.8,362.8 L295.8,362.0 L295.6,361.2 L296.3,360.8 L300.0,359.7 L303.8,356.5 L305.0,356.0 L306.2,355.8 L314.2,356.6 L320.5,358.8 L324.0,358.6 L325.8,358.7 L327.2,359.4 L328.1,360.5 L328.2,362.0 L327.4,363.5 L326.3,364.5 L324.2,365.4 L323.0,365.8 L317.2,365.7 L313.0,366.0 M363.5,365.0 L358.8,364.9 L356.6,364.2 L355.4,363.5 L355.8,363.0 L357.9,362.2 L360.5,361.7 L363.5,361.5 L365.8,361.6 L367.5,361.9 L368.8,362.5 L369.4,363.2 L369.0,364.0 L367.9,364.5 L363.5,365.0 M290.8,176.6 L286.0,176.4 L279.7,174.0 L279.3,173.8 L279.2,173.2 L279.5,172.8 L280.2,172.2 L283.2,171.4 L288.8,169.1 L290.0,169.3 L292.0,170.1 L292.4,170.5 L292.8,172.1 L293.2,172.5 L294.0,172.3 L295.5,170.8 L296.0,170.7 L296.5,171.0 L297.4,172.8 L297.4,173.5 L297.0,174.4 L296.3,174.8 L293.5,175.3 L290.8,176.6 M227.5,251.3 L226.8,251.4 L226.0,251.1 L224.8,249.8 L223.2,248.9 L221.3,245.0 L220.4,239.5 L220.8,237.0 L219.2,232.2 L219.0,231.0 L219.4,227.8 L218.7,221.2 L219.6,214.0 L218.9,209.5 L219.4,203.2 L220.1,200.5 L221.7,196.2 L222.2,194.0 L223.6,190.8 L224.2,189.9 L225.2,189.4 L227.0,189.3 L227.8,189.4 L228.5,190.0 L230.8,194.2 L231.5,199.1 L232.0,200.3 L232.5,200.7 L233.2,200.3 L235.3,197.2 L237.2,195.2 L243.5,191.0 L247.8,187.4 L249.5,186.6 L255.5,185.0 L259.0,183.5 L260.5,183.2 L267.0,183.2 L270.5,182.9 L273.5,183.1 L281.2,184.1 L282.5,184.7 L289.5,188.7 L293.2,191.7 L294.0,193.2 L294.4,196.8 L295.1,200.0 L295.1,201.5 L294.8,203.1 L293.8,204.8 L290.6,209.0 L289.0,213.8 L288.0,215.8 L286.5,217.7 L283.8,220.0 L282.8,221.2 L281.8,223.0 L280.4,226.8 L278.8,228.8 L276.0,230.9 L273.2,232.3 L271.8,232.5 L269.2,232.3 L268.0,232.6 L267.0,233.3 L264.8,235.8 L263.5,236.6 L258.4,238.8 L255.8,239.1 L254.0,238.9 L252.5,238.3 L248.5,235.4 L247.2,234.8 L245.8,234.6 L241.2,235.0 L238.5,234.3 L237.4,233.2 L235.8,229.5 L234.2,227.5 L233.5,227.3 L233.1,228.2 L232.4,234.5 L231.1,241.0 L230.5,242.8 L230.1,245.0 L229.0,247.2 L228.4,250.0 L227.5,251.3 M289.0,174.5 L286.2,174.5 L285.1,174.0 L284.7,173.2 L285.3,172.5 L287.0,171.4 L288.0,170.9 L288.8,170.9 L290.0,171.8 L290.5,173.0 L290.2,174.0 L289.0,174.5 M226.8,248.1 L224.3,247.5 L223.5,245.4 L222.4,243.8 L221.4,239.8 L221.9,237.2 L219.8,231.2 L220.3,228.5 L220.1,226.0 L220.4,223.8 L219.7,220.8 L220.4,214.2 L220.2,212.5 L219.5,209.8 L220.1,207.0 L220.2,203.5 L221.2,199.9 L222.2,198.0 L223.6,196.0 L224.3,194.5 L224.6,192.8 L225.0,192.1 L226.0,191.7 L227.0,191.9 L229.3,194.5 L229.8,196.0 L230.4,200.0 L231.8,203.9 L232.2,204.7 L232.8,204.9 L233.8,203.9 L236.0,199.6 L237.8,197.6 L239.6,196.0 L244.9,192.5 L247.8,190.0 L250.5,188.5 L255.0,187.5 L259.2,185.9 L263.5,185.3 L274.8,185.5 L278.0,186.3 L280.2,187.2 L282.4,188.8 L285.3,191.5 L286.8,193.4 L287.7,195.8 L288.2,201.2 L288.1,203.2 L287.1,205.0 L284.2,207.4 L283.2,208.6 L282.7,210.0 L282.4,213.2 L281.9,214.8 L277.4,222.2 L275.9,224.2 L274.2,225.5 L272.5,226.3 L267.8,227.2 L262.8,229.1 L258.5,230.0 L254.2,231.4 L253.0,231.5 L247.5,229.8 L245.8,229.9 L242.8,230.5 L241.5,230.3 L240.7,229.8 L238.6,226.8 L235.1,223.8 L233.8,222.3 L233.2,222.1 L233.0,222.5 L232.7,224.2 L231.8,227.0 L231.8,231.8 L231.2,236.2 L230.2,240.2 L229.1,242.5 L228.9,244.8 L226.8,248.1 M255.8,225.3 L249.5,225.4 L245.5,224.7 L242.5,223.1 L239.2,220.8 L237.8,219.3 L237.0,218.0 L236.5,216.5 L235.8,212.5 L235.5,208.2 L235.7,205.8 L237.5,201.8 L238.8,199.9 L240.2,198.4 L246.3,194.0 L249.0,191.7 L251.0,190.7 L255.5,189.7 L260.0,188.2 L263.8,187.6 L271.5,188.1 L274.8,189.0 L278.2,191.2 L279.5,192.2 L280.8,194.2 L281.2,196.2 L281.1,197.8 L280.5,199.5 L277.1,205.5 L276.8,207.0 L276.6,211.2 L275.8,213.8 L274.5,215.5 L271.3,218.2 L268.8,220.9 L265.7,223.0 L263.8,223.8 L259.5,224.2 L255.8,225.3 M226.2,242.8 L225.5,243.0 L224.2,242.6 L223.5,242.0 L223.0,241.1 L222.5,239.5 L222.8,237.2 L221.8,235.0 L221.0,231.8 L221.3,229.0 L220.9,226.2 L221.5,223.5 L220.7,220.5 L220.7,217.5 L221.1,215.0 L221.1,213.5 L220.3,210.0 L221.2,207.5 L221.1,204.0 L222.3,200.2 L223.8,198.1 L225.8,196.3 L226.8,195.9 L227.5,196.1 L228.3,197.0 L228.8,199.5 L230.0,202.2 L230.8,205.8 L231.4,211.0 L232.1,214.2 L231.6,216.8 L231.4,219.8 L231.0,222.0 L231.3,224.8 L230.8,227.2 L230.9,231.5 L230.4,233.8 L230.3,236.5 L228.8,239.8 L226.2,242.8 M253.5,221.5 L251.0,221.4 L249.0,220.6 L245.8,217.0 L241.5,214.3 L240.0,212.9 L238.8,210.9 L238.0,208.8 L238.0,206.8 L238.9,204.5 L240.2,202.2 L242.3,200.0 L245.2,197.5 L251.2,193.2 L263.2,190.2 L266.2,190.2 L268.9,191.0 L270.2,191.9 L271.2,193.0 L271.8,194.5 L272.1,196.0 L272.1,199.2 L271.3,204.5 L271.6,208.8 L271.1,210.5 L269.8,212.0 L265.7,214.8 L262.8,217.9 L261.5,218.9 L256.2,221.0 L253.5,221.5 M227.0,238.5 L225.5,238.7 L224.8,238.5 L222.5,234.4 L222.4,231.5 L222.6,229.0 L221.7,226.5 L222.4,223.8 L221.7,220.8 L221.7,217.2 L222.1,213.8 L221.2,210.2 L221.4,209.5 L222.5,208.0 L222.1,204.8 L223.5,200.2 L224.8,198.7 L226.0,198.0 L226.5,198.1 L226.9,198.5 L229.6,205.8 L230.0,210.5 L230.6,213.8 L230.3,218.5 L229.7,221.5 L230.3,225.0 L229.7,229.8 L229.7,231.8 L229.1,233.8 L229.4,236.0 L229.2,236.8 L228.5,237.6 L227.0,238.5 M253.8,216.5 L252.0,216.1 L245.5,212.5 L242.6,210.5 L241.6,209.2 L241.0,208.0 L241.0,206.8 L241.5,205.2 L243.3,202.5 L245.8,199.9 L248.0,198.2 L252.8,195.2 L254.8,194.7 L262.0,193.6 L263.5,193.6 L264.9,194.0 L266.0,194.8 L267.2,196.3 L268.0,197.7 L268.4,199.0 L268.4,201.5 L267.6,207.0 L267.2,208.2 L266.0,209.6 L261.0,213.3 L253.8,216.5 M256.0,203.2 L257.3,202.5 L258.1,201.2 L258.3,199.8 L257.8,199.1 L256.5,199.1 L255.4,199.5 L254.3,200.2 L253.9,201.0 L253.8,202.0 L254.2,203.0 L255.0,203.4 L256.0,203.2 M226.0,235.7 L224.5,235.1 L223.8,234.0 L224.4,232.0 L223.8,230.2 L223.7,228.2 L222.8,226.5 L223.4,223.8 L222.6,221.0 L223.7,218.2 L224.2,212.2 L225.2,210.0 L225.1,209.5 L223.7,207.2 L223.4,205.5 L224.9,201.0 L225.5,200.5 L226.3,201.2 L225.8,203.5 L225.9,204.2 L227.8,206.0 L228.2,206.8 L228.1,209.2 L229.0,211.5 L229.2,212.8 L228.9,215.0 L229.1,218.2 L227.9,220.5 L229.2,224.0 L229.2,225.2 L228.2,229.5 L228.2,231.8 L227.7,232.5 L225.8,233.8 L225.7,234.8 L226.2,235.5 L226.0,235.7 M226.5,215.3 L226.2,215.4 L226.0,215.0 L225.8,213.5 L226.2,212.2 L227.0,211.7 L227.5,212.0 L227.6,212.5 L226.5,215.3 M227.5,224.8 L227.0,224.8 L226.8,224.5 L226.8,223.8 L227.0,223.6 L227.5,224.0 L227.5,224.8"/>
<path stroke="#303030" d="M225.8,380.3 L224.0,380.5 L221.2,380.3 L217.4,378.5 L215.3,375.8 L214.1,373.8 L213.2,370.2 L212.7,366.0 L213.1,362.8 L214.0,359.0 L215.1,356.2 L217.1,353.2 L219.2,351.1 L221.2,349.9 L223.5,349.2 L226.0,349.0 L228.5,349.3 L231.0,350.3 L233.5,352.0 L235.8,354.1 L237.4,356.5 L238.6,359.2 L239.4,362.2 L239.7,365.5 L239.4,368.5 L238.7,371.0 L237.5,373.2 L235.7,375.5 L233.8,377.2 L231.2,378.7 L228.5,379.7 L225.8,380.3 M224.8,380.0 L221.0,379.8 L218.0,378.4 L216.9,377.2 L215.3,375.0 L214.1,372.5 L213.5,370.2 L213.1,366.0 L213.4,362.8 L214.4,359.0 L215.5,356.3 L217.5,353.4 L219.8,351.3 L221.8,350.2 L224.0,349.6 L226.5,349.5 L229.0,350.0 L231.5,351.1 L234.0,352.9 L235.9,355.0 L237.6,357.8 L238.5,360.2 L239.1,363.2 L239.2,366.5 L238.9,369.0 L238.0,371.5 L236.6,373.8 L235.0,375.6 L233.3,377.0 L231.0,378.4 L228.2,379.4 L224.8,380.0 M225.5,379.5 L221.5,379.5 L218.5,378.3 L217.5,377.4 L215.7,375.0 L214.5,372.5 L213.8,370.0 L213.4,366.0 L213.8,362.8 L214.7,359.2 L215.8,356.5 L217.1,354.5 L219.0,352.5 L221.5,350.8 L223.5,350.2 L226.0,349.9 L228.5,350.3 L230.8,351.2 L233.2,352.8 L235.4,355.0 L237.0,357.4 L238.0,359.8 L238.7,362.8 L238.8,365.8 L238.6,368.2 L238.0,370.5 L236.8,372.8 L235.2,374.8 L233.5,376.3 L231.0,377.9 L228.2,379.0 L225.5,379.5 M224.5,379.3 L221.5,379.1 L219.2,378.2 L218.2,377.6 L216.3,375.2 L215.2,373.5 L214.2,370.2 L213.8,367.8 L213.8,364.8 L214.4,361.2 L215.7,357.5 L216.7,355.8 L218.2,353.8 L220.2,352.1 L222.2,351.0 L224.2,350.5 L226.5,350.4 L229.0,350.9 L231.2,352.0 L233.7,353.8 L235.5,355.8 L237.0,358.3 L237.9,360.8 L238.4,363.5 L238.4,366.5 L238.0,369.0 L237.2,371.2 L235.7,373.5 L234.0,375.4 L232.0,376.9 L229.5,378.1 L227.0,378.9 L224.5,379.3 M225.2,378.8 L221.5,378.7 L218.8,377.5 L218.0,376.8 L216.4,374.8 L215.1,372.2 L214.5,370.0 L214.1,366.0 L214.4,363.0 L215.4,359.2 L216.5,356.8 L217.8,355.0 L219.8,353.0 L221.8,351.7 L223.5,351.1 L226.2,350.9 L228.5,351.2 L230.9,352.2 L233.2,353.9 L235.0,355.8 L236.6,358.2 L237.3,360.2 L237.9,363.0 L238.0,365.8 L237.8,368.2 L237.0,370.5 L235.8,372.8 L234.3,374.5 L232.5,376.1 L230.6,377.2 L228.2,378.2 L225.2,378.8 M224.2,378.5 L221.8,378.4 L219.0,377.2 L216.8,374.6 L215.5,372.2 L214.8,370.0 L214.5,367.8 L214.4,364.8 L215.1,361.2 L215.8,359.2 L216.9,356.8 L218.2,355.0 L220.2,353.1 L222.2,352.0 L224.0,351.4 L226.8,351.3 L229.0,351.8 L231.2,352.9 L233.3,354.5 L235.1,356.5 L236.4,358.8 L237.2,361.0 L237.6,363.8 L237.6,366.5 L237.2,368.8 L236.3,371.0 L235.1,373.0 L233.2,375.0 L231.5,376.3 L229.2,377.4 L226.8,378.2 L224.2,378.5 M225.5,378.0 L224.0,378.2 L221.8,378.0 L219.3,377.0 L218.8,376.5 L217.0,374.4 L215.8,372.2 L215.2,370.0 L214.7,366.0 L215.4,361.2 L216.8,357.8 L217.7,356.2 L219.5,354.3 L221.2,353.0 L223.5,352.0 L225.8,351.7 L228.0,352.0 L230.0,352.7 L232.2,354.1 L234.0,355.8 L235.4,357.8 L236.4,359.8 L237.1,362.2 L237.3,365.0 L237.1,367.5 L236.5,369.8 L235.3,372.0 L234.0,373.6 L232.3,375.2 L230.5,376.4 L228.0,377.5 L225.5,378.0 M224.5,377.8 L222.0,377.7 L219.8,376.8 L217.3,374.2 L216.2,372.2 L215.5,370.0 L215.1,367.5 L215.1,364.8 L215.7,361.5 L216.5,359.2 L217.6,357.0 L218.8,355.5 L220.5,354.0 L222.5,352.9 L224.8,352.2 L226.5,352.2 L228.8,352.7 L230.8,353.6 L232.7,355.0 L234.3,356.8 L235.7,359.0 L236.4,361.0 L236.8,363.5 L236.9,366.0 L236.5,368.2 L235.7,370.5 L234.6,372.2 L233.0,374.1 L231.0,375.7 L229.0,376.7 L226.8,377.5 L224.5,377.8 M225.8,377.3 L224.0,377.5 L222.0,377.3 L219.9,376.5 L219.2,375.9 L217.6,374.0 L216.4,372.0 L215.7,369.8 L215.3,366.0 L215.6,363.2 L216.1,361.2 L216.8,359.2 L218.2,356.7 L220.0,354.9 L221.8,353.7 L223.8,352.9 L225.8,352.6 L227.8,352.8 L229.8,353.5 L231.8,354.8 L233.5,356.4 L234.8,358.2 L235.7,360.0 L236.3,362.2 L236.5,364.8 L236.3,367.0 L235.8,369.2 L235.0,371.0 L233.5,373.0 L231.8,374.7 L230.2,375.7 L228.0,376.7 L225.8,377.3 M225.0,377.0 L222.5,377.0 L221.0,376.6 L220.0,376.1 L218.2,374.3 L216.9,372.2 L216.1,370.0 L215.6,366.0 L215.9,363.2 L216.4,361.2 L217.2,359.2 L218.7,356.8 L220.5,355.0 L222.2,353.9 L224.2,353.2 L226.2,353.0 L228.2,353.4 L230.2,354.3 L232.0,355.5 L233.7,357.2 L235.0,359.3 L235.6,361.0 L236.1,363.2 L236.1,365.5 L235.8,367.8 L235.2,369.8 L234.2,371.5 L232.8,373.2 L231.0,374.8 L229.0,376.0 L226.8,376.7 L225.0,377.0 M224.0,376.8 L222.0,376.6 L220.2,375.9 L217.7,373.0 L216.4,369.8 L215.9,367.5 L215.9,365.0 L216.7,361.5 L217.4,359.5 L219.2,356.6 L221.2,355.0 L223.0,354.0 L225.0,353.5 L227.0,353.6 L229.0,354.1 L230.8,355.1 L232.5,356.5 L233.9,358.2 L234.8,359.8 L235.5,362.0 L235.7,364.2 L235.6,366.5 L235.2,368.5 L234.3,370.5 L233.0,372.5 L231.5,374.0 L230.0,375.0 L228.0,376.0 L226.5,376.4 L224.0,376.8 M225.2,376.3 L223.2,376.4 L221.5,376.1 L220.5,375.6 L218.8,373.9 L217.5,372.0 L216.7,369.8 L216.2,366.0 L216.5,363.2 L217.0,361.5 L217.8,359.5 L219.0,357.5 L220.5,356.0 L222.2,354.8 L224.2,354.1 L226.2,353.9 L228.0,354.2 L229.8,354.9 L231.5,356.1 L233.0,357.7 L234.2,359.5 L234.8,361.0 L235.3,363.0 L235.4,365.2 L235.1,367.2 L234.6,369.0 L233.8,370.8 L232.5,372.5 L230.9,374.0 L229.0,375.2 L227.0,375.9 L225.2,376.3 M224.5,376.0 L222.2,376.0 L221.0,375.5 L219.5,374.2 L218.3,372.8 L217.0,369.8 L216.5,367.5 L216.5,365.0 L216.8,363.2 L217.6,360.8 L218.8,358.5 L219.8,357.2 L221.2,355.9 L223.0,354.9 L224.8,354.5 L226.8,354.4 L228.5,354.8 L230.2,355.7 L231.8,356.9 L233.1,358.5 L234.2,360.2 L234.6,361.8 L235.0,363.8 L234.9,366.0 L234.5,368.0 L233.9,369.8 L232.8,371.5 L231.5,373.0 L230.0,374.2 L228.2,375.1 L226.5,375.7 L224.5,376.0 M225.8,375.5 L224.0,375.7 L222.2,375.6 L221.0,375.1 L219.5,373.7 L218.2,372.0 L217.3,369.8 L216.7,366.0 L217.1,363.2 L217.6,361.5 L218.5,359.6 L219.7,357.8 L221.2,356.4 L222.8,355.5 L224.5,355.0 L226.0,354.8 L227.8,355.1 L229.2,355.6 L230.8,356.6 L232.2,358.0 L234.0,360.8 L234.5,362.8 L234.6,364.8 L234.4,366.8 L234.0,368.5 L233.2,370.2 L232.1,371.8 L230.8,373.2 L229.2,374.2 L227.7,375.0 L225.8,375.5 M225.2,375.3 L223.5,375.4 L222.0,375.2 L221.2,374.8 L219.5,373.2 L218.5,371.9 L217.6,369.8 L217.0,366.0 L217.4,363.5 L217.9,361.8 L218.8,359.8 L220.0,357.9 L221.5,356.7 L223.0,355.8 L224.5,355.4 L226.2,355.3 L228.0,355.6 L229.5,356.3 L231.0,357.4 L232.2,358.7 L233.7,361.2 L234.1,363.2 L234.2,365.2 L233.9,367.2 L233.4,369.0 L232.6,370.5 L231.4,372.0 L230.2,373.1 L228.5,374.2 L226.8,374.9 L225.2,375.3 M224.5,375.0 L222.8,375.0 L221.8,374.7 L220.2,373.5 L219.1,372.2 L217.7,369.0 L217.4,367.2 L217.4,365.0 L218.2,361.6 L219.1,359.8 L220.5,357.9 L222.0,356.8 L223.2,356.2 L224.8,355.8 L226.5,355.8 L228.0,356.1 L229.5,356.8 L231.0,357.9 L232.2,359.4 L233.2,361.0 L233.5,362.0 L233.8,363.8 L233.8,365.8 L233.5,367.5 L232.9,369.2 L230.9,372.0 L229.8,373.0 L228.0,374.1 L226.5,374.7 L224.5,375.0"/>
</g>
<rect x="207.10" y="121.00" width="25.70" height="213.40" fill="none" stroke="#6b6565" stroke-width="2.0"/>
<rect x="234.90" y="121.00" width="72.20" height="212.20" fill="none" stroke="#1ba3e6" stroke-width="2.0"/>
<rect x="309.00" y="121.00" width="110.00" height="212.20" fill="none" stroke="#f41a1a" stroke-width="2.0"/>
<rect x="206.30" y="334.40" width="27.50" height="57.80" fill="none" stroke="#000" stroke-width="2.0"/>
<rect x="235.60" y="334.90" width="72.40" height="58.20" fill="none" stroke="#1a10c2" stroke-width="2.0"/>
<rect x="309.60" y="334.90" width="109.40" height="58.00" fill="none" stroke="#c55a14" stroke-width="2.0"/>
<text x="216.90" y="111.10" font-size="15.99" fill="#6f6b6b" stroke="#6f6b6b" stroke-width="0.45" font-weight="bold" textLength="9.20" lengthAdjust="spacingAndGlyphs">1</text>
<text x="269.30" y="111.10" font-size="15.99" fill="#1ba3e6" stroke="#1ba3e6" stroke-width="0.45" font-weight="bold" textLength="9.60" lengthAdjust="spacingAndGlyphs">2</text>
<text x="360.80" y="111.10" font-size="15.99" fill="#f41a1a" stroke="#f41a1a" stroke-width="0.45" font-weight="bold" textLength="10.20" lengthAdjust="spacingAndGlyphs">3</text>
<text x="216.20" y="411.90" font-size="15.99" fill="#000" stroke="#000" stroke-width="0.45" font-weight="bold" textLength="10.60" lengthAdjust="spacingAndGlyphs">0</text>
<text x="263.70" y="414.20" font-size="15.99" fill="#1a10c2" stroke="#1a10c2" stroke-width="0.45" font-weight="bold" textLength="9.80" lengthAdjust="spacingAndGlyphs">4</text>
<text x="356.30" y="412.80" font-size="15.99" fill="#c55a14" stroke="#c55a14" stroke-width="0.45" font-weight="bold" textLength="9.40" lengthAdjust="spacingAndGlyphs">5</text>
<text x="154.30" y="598.90" font-size="19.33" fill="#000000" stroke="#000000" stroke-width="0.45" font-weight="bold" textLength="29.80" lengthAdjust="spacingAndGlyphs">0 –</text>
<text x="188.50" y="598.90" font-size="19.33" fill="#000000" stroke="#000000" stroke-width="0.45" font-weight="bold" textLength="62.30" lengthAdjust="spacingAndGlyphs">CD11b</text>
<rect x="250.60" y="588.20" width="3.60" height="1.90" fill="#000000" stroke="none" stroke-width="0"/>
<text x="254.80" y="598.90" font-size="19.33" fill="#000000" stroke="#000000" stroke-width="0.45" font-weight="bold" textLength="62.70" lengthAdjust="spacingAndGlyphs">CD103</text>
<rect x="317.40" y="588.20" width="3.60" height="1.90" fill="#000000" stroke="none" stroke-width="0"/>
<text x="326.50" y="598.90" font-size="19.33" fill="#000000" stroke="#000000" stroke-width="0.45" font-weight="bold" textLength="125.40" lengthAdjust="spacingAndGlyphs">(7.43±0.87%)</text>
<text x="154.30" y="626.70" font-size="19.33" fill="#595959" stroke="#595959" stroke-width="0.45" font-weight="bold" textLength="29.80" lengthAdjust="spacingAndGlyphs">1 –</text>
<text x="188.10" y="626.70" font-size="19.33" fill="#595959" stroke="#595959" stroke-width="0.45" font-weight="bold" textLength="61.60" lengthAdjust="spacingAndGlyphs">CD103</text>
<line x1="249.60" y1="616.20" x2="256.70" y2="616.20" stroke="#595959" stroke-width="2.0"/>
<line x1="253.15" y1="612.30" x2="253.15" y2="620.10" stroke="#595959" stroke-width="2.0"/>
<text x="258.10" y="626.70" font-size="19.33" fill="#595959" stroke="#595959" stroke-width="0.45" font-weight="bold" textLength="61.60" lengthAdjust="spacingAndGlyphs">CD11b</text>
<rect x="319.60" y="616.00" width="3.60" height="1.90" fill="#595959" stroke="none" stroke-width="0"/>
<text x="330.30" y="626.70" font-size="19.33" fill="#595959" stroke="#595959" stroke-width="0.45" font-weight="bold" textLength="124.90" lengthAdjust="spacingAndGlyphs">(4.09±0.93%)</text>
<text x="154.30" y="654.00" font-size="19.33" fill="#12aeea" stroke="#12aeea" stroke-width="0.45" font-weight="bold" textLength="29.80" lengthAdjust="spacingAndGlyphs">2 –</text>
<text x="188.10" y="654.00" font-size="19.33" fill="#12aeea" stroke="#12aeea" stroke-width="0.45" font-weight="bold" textLength="61.60" lengthAdjust="spacingAndGlyphs">CD103</text>
<line x1="249.60" y1="643.50" x2="256.70" y2="643.50" stroke="#12aeea" stroke-width="2.0"/>
<line x1="253.15" y1="639.60" x2="253.15" y2="647.40" stroke="#12aeea" stroke-width="2.0"/>
<text x="257.00" y="654.00" font-size="19.33" fill="#12aeea" stroke="#12aeea" stroke-width="0.45" font-weight="bold" textLength="62.70" lengthAdjust="spacingAndGlyphs">CD11b</text>
<text x="319.90" y="647.80" font-size="14.81" fill="#12aeea" stroke="#12aeea" stroke-width="0.45" font-weight="bold" textLength="23.90" lengthAdjust="spacingAndGlyphs">low</text>
<text x="349.20" y="654.00" font-size="19.33" fill="#12aeea" stroke="#12aeea" stroke-width="0.45" font-weight="bold" textLength="124.90" lengthAdjust="spacingAndGlyphs">(42.48±2.2%)</text>
<text x="154.30" y="681.10" font-size="19.33" fill="#ff0000" stroke="#ff0000" stroke-width="0.45" font-weight="bold" textLength="29.80" lengthAdjust="spacingAndGlyphs">3 –</text>
<text x="188.10" y="681.10" font-size="19.33" fill="#ff0000" stroke="#ff0000" stroke-width="0.45" font-weight="bold" textLength="61.60" lengthAdjust="spacingAndGlyphs">CD103</text>
<line x1="249.60" y1="670.60" x2="256.70" y2="670.60" stroke="#ff0000" stroke-width="2.0"/>
<line x1="253.15" y1="666.70" x2="253.15" y2="674.50" stroke="#ff0000" stroke-width="2.0"/>
<text x="262.50" y="681.10" font-size="19.33" fill="#ff0000" stroke="#ff0000" stroke-width="0.45" font-weight="bold" textLength="62.70" lengthAdjust="spacingAndGlyphs">CD11b</text>
<text x="325.10" y="674.90" font-size="14.81" fill="#ff0000" stroke="#ff0000" stroke-width="0.45" font-weight="bold" textLength="25.90" lengthAdjust="spacingAndGlyphs">high</text>
<text x="357.60" y="681.10" font-size="19.33" fill="#ff0000" stroke="#ff0000" stroke-width="0.45" font-weight="bold" textLength="137.60" lengthAdjust="spacingAndGlyphs">(18.25±0.73%)</text>
<text x="154.30" y="708.90" font-size="19.33" fill="#0c0cb4" stroke="#0c0cb4" stroke-width="0.45" font-weight="bold" textLength="29.80" lengthAdjust="spacingAndGlyphs">4 –</text>
<text x="188.10" y="708.90" font-size="19.33" fill="#0c0cb4" stroke="#0c0cb4" stroke-width="0.45" font-weight="bold" textLength="61.60" lengthAdjust="spacingAndGlyphs">CD103</text>
<rect x="249.60" y="698.20" width="3.60" height="1.90" fill="#0c0cb4" stroke="none" stroke-width="0"/>
<text x="254.80" y="708.90" font-size="19.33" fill="#0c0cb4" stroke="#0c0cb4" stroke-width="0.45" font-weight="bold" textLength="63.80" lengthAdjust="spacingAndGlyphs">CD11b</text>
<text x="318.00" y="702.70" font-size="14.81" fill="#0c0cb4" stroke="#0c0cb4" stroke-width="0.45" font-weight="bold" textLength="22.50" lengthAdjust="spacingAndGlyphs">low</text>
<text x="345.90" y="708.90" font-size="19.33" fill="#0c0cb4" stroke="#0c0cb4" stroke-width="0.45" font-weight="bold" textLength="124.90" lengthAdjust="spacingAndGlyphs">(8.99±0.58%)</text>
<text x="154.30" y="736.70" font-size="19.33" fill="#c0571c" stroke="#c0571c" stroke-width="0.45" font-weight="bold" textLength="29.80" lengthAdjust="spacingAndGlyphs">5 –</text>
<text x="188.10" y="736.70" font-size="19.33" fill="#c0571c" stroke="#c0571c" stroke-width="0.45" font-weight="bold" textLength="61.60" lengthAdjust="spacingAndGlyphs">CD103</text>
<rect x="249.60" y="726.00" width="3.60" height="1.90" fill="#c0571c" stroke="none" stroke-width="0"/>
<text x="254.80" y="736.70" font-size="19.33" fill="#c0571c" stroke="#c0571c" stroke-width="0.45" font-weight="bold" textLength="62.70" lengthAdjust="spacingAndGlyphs">CD11b</text>
<text x="317.30" y="730.50" font-size="14.81" fill="#c0571c" stroke="#c0571c" stroke-width="0.45" font-weight="bold" textLength="27.20" lengthAdjust="spacingAndGlyphs">high</text>
<text x="350.30" y="736.70" font-size="19.33" fill="#c0571c" stroke="#c0571c" stroke-width="0.45" font-weight="bold" textLength="137.20" lengthAdjust="spacingAndGlyphs">(17.47±1.88%)</text>
<text x="6.00" y="751.30" font-size="34.45" fill="#000" stroke="#000" stroke-width="0.45" font-weight="bold" textLength="23.20" lengthAdjust="spacingAndGlyphs">B</text>
<line x1="82.80" y1="776.80" x2="82.80" y2="1213.80" stroke="#000" stroke-width="2.4"/>
<line x1="75.30" y1="1212.60" x2="538.10" y2="1212.60" stroke="#000" stroke-width="2.4"/>
<line x1="75.50" y1="778.00" x2="83.00" y2="778.00" stroke="#000" stroke-width="2.4"/>
<line x1="75.50" y1="924.00" x2="83.00" y2="924.00" stroke="#000" stroke-width="2.4"/>
<line x1="75.50" y1="1068.10" x2="83.00" y2="1068.10" stroke="#000" stroke-width="2.4"/>
<text x="48.60" y="785.20" font-size="15.99" fill="#000" stroke="#000" stroke-width="0.3" textLength="21.60" lengthAdjust="spacingAndGlyphs">1.5</text>
<text x="48.30" y="929.10" font-size="15.99" fill="#000" stroke="#000" stroke-width="0.3" textLength="22.00" lengthAdjust="spacingAndGlyphs">1.0</text>
<text x="47.80" y="1073.40" font-size="15.99" fill="#000" stroke="#000" stroke-width="0.3" textLength="22.50" lengthAdjust="spacingAndGlyphs">0.5</text>
<text x="56.20" y="1218.10" font-size="15.99" fill="#000" stroke="#000" stroke-width="0.3" textLength="9.50" lengthAdjust="spacingAndGlyphs">0</text>
<line x1="130.00" y1="1165.20" x2="130.00" y2="1169.30" stroke="#000" stroke-width="2.2"/>
<line x1="119.50" y1="1165.20" x2="140.90" y2="1165.20" stroke="#000" stroke-width="2.3" stroke-linecap="round"/>
<rect x="107.95" y="1170.05" width="44.10" height="42.55" fill="#000000" stroke="#000" stroke-width="3.5"/>
<line x1="130.00" y1="1212.60" x2="130.00" y2="1219.40" stroke="#000" stroke-width="2.2"/>
<text x="125.40" y="1241.80" font-size="15.99" fill="#000" stroke="#000" stroke-width="0.3" textLength="9.00" lengthAdjust="spacingAndGlyphs">0</text>
<line x1="201.60" y1="1102.10" x2="201.60" y2="1121.60" stroke="#000" stroke-width="2.2"/>
<line x1="190.80" y1="1102.10" x2="213.00" y2="1102.10" stroke="#000" stroke-width="2.3" stroke-linecap="round"/>
<rect x="179.55" y="1122.35" width="44.10" height="90.25" fill="#a3a2a7" stroke="#000" stroke-width="3.5"/>
<line x1="201.60" y1="1212.60" x2="201.60" y2="1219.40" stroke="#000" stroke-width="2.2"/>
<text x="197.00" y="1241.80" font-size="15.99" fill="#000" stroke="#000" stroke-width="0.3" textLength="9.00" lengthAdjust="spacingAndGlyphs">1</text>
<line x1="273.60" y1="1044.90" x2="273.60" y2="1078.50" stroke="#000" stroke-width="2.2"/>
<line x1="262.80" y1="1044.90" x2="284.80" y2="1044.90" stroke="#000" stroke-width="2.3" stroke-linecap="round"/>
<rect x="251.55" y="1079.25" width="44.10" height="133.35" fill="#29abe8" stroke="#000" stroke-width="3.5"/>
<line x1="273.60" y1="1212.60" x2="273.60" y2="1219.40" stroke="#000" stroke-width="2.2"/>
<text x="269.00" y="1241.80" font-size="15.99" fill="#000" stroke="#000" stroke-width="0.3" textLength="9.00" lengthAdjust="spacingAndGlyphs">2</text>
<line x1="345.20" y1="849.40" x2="345.20" y2="902.90" stroke="#000" stroke-width="2.2"/>
<line x1="334.40" y1="849.40" x2="356.60" y2="849.40" stroke="#000" stroke-width="2.3" stroke-linecap="round"/>
<rect x="323.15" y="903.65" width="44.10" height="308.95" fill="#ff0000" stroke="#000" stroke-width="3.5"/>
<line x1="345.20" y1="1212.60" x2="345.20" y2="1219.40" stroke="#000" stroke-width="2.2"/>
<text x="340.60" y="1241.80" font-size="15.99" fill="#000" stroke="#000" stroke-width="0.3" textLength="9.00" lengthAdjust="spacingAndGlyphs">3</text>
<line x1="416.80" y1="1077.90" x2="416.80" y2="1113.40" stroke="#000" stroke-width="2.2"/>
<line x1="405.80" y1="1077.90" x2="428.10" y2="1077.90" stroke="#000" stroke-width="2.3" stroke-linecap="round"/>
<rect x="394.75" y="1114.15" width="44.10" height="98.45" fill="#0000ff" stroke="#000" stroke-width="3.5"/>
<line x1="416.80" y1="1212.60" x2="416.80" y2="1219.40" stroke="#000" stroke-width="2.2"/>
<text x="412.20" y="1241.80" font-size="15.99" fill="#000" stroke="#000" stroke-width="0.3" textLength="9.00" lengthAdjust="spacingAndGlyphs">4</text>
<rect x="466.15" y="925.65" width="44.10" height="286.95" fill="#c05a25" stroke="#000" stroke-width="3.5"/>
<line x1="488.20" y1="1212.60" x2="488.20" y2="1219.40" stroke="#000" stroke-width="2.2"/>
<text x="483.60" y="1241.80" font-size="15.99" fill="#000" stroke="#000" stroke-width="0.3" textLength="9.00" lengthAdjust="spacingAndGlyphs">5</text>
<line x1="75.30" y1="1212.60" x2="538.10" y2="1212.60" stroke="#000" stroke-width="2.4"/>
<line x1="322.90" y1="817.20" x2="322.90" y2="826.00" stroke="#000" stroke-width="2.3" stroke-linecap="round"/>
<line x1="326.71" y1="819.40" x2="319.09" y2="823.80" stroke="#000" stroke-width="2.3" stroke-linecap="round"/>
<line x1="326.71" y1="823.80" x2="319.09" y2="819.40" stroke="#000" stroke-width="2.3" stroke-linecap="round"/>
<line x1="339.63" y1="817.20" x2="339.63" y2="826.00" stroke="#000" stroke-width="2.3" stroke-linecap="round"/>
<line x1="343.44" y1="819.40" x2="335.82" y2="823.80" stroke="#000" stroke-width="2.3" stroke-linecap="round"/>
<line x1="343.44" y1="823.80" x2="335.82" y2="819.40" stroke="#000" stroke-width="2.3" stroke-linecap="round"/>
<line x1="356.37" y1="817.20" x2="356.37" y2="826.00" stroke="#000" stroke-width="2.3" stroke-linecap="round"/>
<line x1="360.18" y1="819.40" x2="352.56" y2="823.80" stroke="#000" stroke-width="2.3" stroke-linecap="round"/>
<line x1="360.18" y1="823.80" x2="352.56" y2="819.40" stroke="#000" stroke-width="2.3" stroke-linecap="round"/>
<line x1="373.10" y1="817.20" x2="373.10" y2="826.00" stroke="#000" stroke-width="2.3" stroke-linecap="round"/>
<line x1="376.91" y1="819.40" x2="369.29" y2="823.80" stroke="#000" stroke-width="2.3" stroke-linecap="round"/>
<line x1="376.91" y1="823.80" x2="369.29" y2="819.40" stroke="#000" stroke-width="2.3" stroke-linecap="round"/>
<line x1="462.00" y1="887.00" x2="462.00" y2="896.50" stroke="#000" stroke-width="2.3" stroke-linecap="round"/>
<line x1="466.11" y1="889.38" x2="457.89" y2="894.12" stroke="#000" stroke-width="2.3" stroke-linecap="round"/>
<line x1="466.11" y1="894.12" x2="457.89" y2="889.38" stroke="#000" stroke-width="2.3" stroke-linecap="round"/>
<line x1="478.77" y1="887.00" x2="478.77" y2="896.50" stroke="#000" stroke-width="2.3" stroke-linecap="round"/>
<line x1="482.88" y1="889.38" x2="474.65" y2="894.12" stroke="#000" stroke-width="2.3" stroke-linecap="round"/>
<line x1="482.88" y1="894.12" x2="474.65" y2="889.38" stroke="#000" stroke-width="2.3" stroke-linecap="round"/>
<line x1="495.53" y1="887.00" x2="495.53" y2="896.50" stroke="#000" stroke-width="2.3" stroke-linecap="round"/>
<line x1="499.65" y1="889.38" x2="491.42" y2="894.12" stroke="#000" stroke-width="2.3" stroke-linecap="round"/>
<line x1="499.65" y1="894.12" x2="491.42" y2="889.38" stroke="#000" stroke-width="2.3" stroke-linecap="round"/>
<line x1="512.30" y1="887.00" x2="512.30" y2="896.50" stroke="#000" stroke-width="2.3" stroke-linecap="round"/>
<line x1="516.41" y1="889.38" x2="508.19" y2="894.12" stroke="#000" stroke-width="2.3" stroke-linecap="round"/>
<line x1="516.41" y1="894.12" x2="508.19" y2="889.38" stroke="#000" stroke-width="2.3" stroke-linecap="round"/>
<text x="216.80" y="1282.90" font-size="23.40" fill="#000" stroke="#000" stroke-width="0.3" textLength="186.60" lengthAdjust="spacingAndGlyphs">Gate (DC subset)</text>
<text x="26.20" y="1141.00" font-size="19.62" fill="#000" stroke="#000" stroke-width="0.3" textLength="269.00" lengthAdjust="spacingAndGlyphs" transform="rotate(-90 26.20 1141.00)">DAB2 expression in DC  (MFI)</text>
<text x="595.60" y="30.00" font-size="34.16" fill="#000" stroke="#000" stroke-width="0.45" font-weight="bold" textLength="23.60" lengthAdjust="spacingAndGlyphs">C</text>
<line x1="642.40" y1="48.00" x2="636.20" y2="1120.00" stroke="#000" stroke-width="2.3"/>
<path d="M635.7,49.2 L642.6,35.6 L649.4,49.2 Z" fill="#000" stroke="none" stroke-width="0"/>
<text x="625.20" y="615.20" font-size="26.60" fill="#000" stroke="#000" stroke-width="0.3" textLength="72.80" lengthAdjust="spacingAndGlyphs" transform="rotate(-90 625.20 615.20)">Events</text>
<line x1="707.60" y1="1171.20" x2="920.00" y2="1171.20" stroke="#000" stroke-width="2.3"/>
<path d="M918.8,1164.2 L931.6,1171.2 L918.8,1178.2 Z" fill="#000" stroke="none" stroke-width="0"/>
<text x="726.20" y="1204.40" font-size="23.40" fill="#000" stroke="#000" stroke-width="0.3" textLength="187.50" lengthAdjust="spacingAndGlyphs">DAB2 (Alexa647)</text>
<line x1="660.20" y1="840.50" x2="660.20" y2="853.00" stroke="#9a9a9a" stroke-width="0.9" stroke-dasharray="1.2,1.6"/>
<path d="M747.9,195.5 L752.5,194.6 L755.7,191.3 L758.4,184.8 L761.0,173.0 L763.6,154.6 L765.6,132.3 L767.5,102.1 L768.9,79.8 L770.2,56.2 L771.5,45.7 L772.8,47.7 L774.4,54.9 L775.4,52.3 L777.0,46.4 L778.3,49.7 L779.3,68.0 L781.3,79.8 L783.3,89.0 L785.9,103.4 L787.9,120.5 L790.5,131.0 L793.8,141.5 L797.7,155.9 L800.3,162.5 L803.6,167.7 L806.9,176.9 L809.5,180.8 L813.4,183.4 L818.7,186.7 L822.0,186.1 L826.6,189.3 L831.8,191.6 L839.7,193.7 L844.9,194.6 L850.2,195.5 L850.2,195.0 L747.9,195.0 Z" fill="#999999" stroke="none" stroke-width="0"/>
<path d="M747.9,195.5 L752.5,194.6 L755.7,191.3 L758.4,184.8 L761.0,173.0 L763.6,154.6 L765.6,132.3 L767.5,102.1 L768.9,79.8 L770.2,56.2 L771.5,45.7 L772.8,47.7 L774.4,54.9 L775.4,52.3 L777.0,46.4 L778.3,49.7 L779.3,68.0 L781.3,79.8 L783.3,89.0 L785.9,103.4 L787.9,120.5 L790.5,131.0 L793.8,141.5 L797.7,155.9 L800.3,162.5 L803.6,167.7 L806.9,176.9 L809.5,180.8 L813.4,183.4 L818.7,186.7 L822.0,186.1 L826.6,189.3 L831.8,191.6 L839.7,193.7 L844.9,194.6 L850.2,195.5" fill="none" stroke="#000" stroke-width="1.65" stroke-linejoin="round"/>
<rect x="703.80" y="26.80" width="217.00" height="168.20" fill="none" stroke="#555" stroke-width="1.2"/>
<line x1="697.00" y1="195.00" x2="703.80" y2="195.00" stroke="#333" stroke-width="1.3"/>
<text x="694.50" y="200.10" font-size="15.43" fill="#111" stroke="#111" stroke-width="0.3" text-anchor="end" textLength="10.35" lengthAdjust="spacingAndGlyphs">0</text>
<line x1="700.20" y1="187.98" x2="703.80" y2="187.98" stroke="#555" stroke-width="1.1"/>
<line x1="700.20" y1="180.96" x2="703.80" y2="180.96" stroke="#555" stroke-width="1.1"/>
<line x1="700.20" y1="173.94" x2="703.80" y2="173.94" stroke="#555" stroke-width="1.1"/>
<line x1="700.20" y1="166.92" x2="703.80" y2="166.92" stroke="#555" stroke-width="1.1"/>
<line x1="697.00" y1="159.90" x2="703.80" y2="159.90" stroke="#333" stroke-width="1.3"/>
<text x="694.50" y="165.00" font-size="15.43" fill="#111" stroke="#111" stroke-width="0.3" text-anchor="end" textLength="19.10" lengthAdjust="spacingAndGlyphs">50</text>
<line x1="700.20" y1="152.88" x2="703.80" y2="152.88" stroke="#555" stroke-width="1.1"/>
<line x1="700.20" y1="145.86" x2="703.80" y2="145.86" stroke="#555" stroke-width="1.1"/>
<line x1="700.20" y1="138.84" x2="703.80" y2="138.84" stroke="#555" stroke-width="1.1"/>
<line x1="700.20" y1="131.82" x2="703.80" y2="131.82" stroke="#555" stroke-width="1.1"/>
<line x1="697.00" y1="124.80" x2="703.80" y2="124.80" stroke="#333" stroke-width="1.3"/>
<text x="694.50" y="129.90" font-size="15.43" fill="#111" stroke="#111" stroke-width="0.3" text-anchor="end" textLength="27.85" lengthAdjust="spacingAndGlyphs">100</text>
<line x1="700.20" y1="117.78" x2="703.80" y2="117.78" stroke="#555" stroke-width="1.1"/>
<line x1="700.20" y1="110.76" x2="703.80" y2="110.76" stroke="#555" stroke-width="1.1"/>
<line x1="700.20" y1="103.74" x2="703.80" y2="103.74" stroke="#555" stroke-width="1.1"/>
<line x1="700.20" y1="96.72" x2="703.80" y2="96.72" stroke="#555" stroke-width="1.1"/>
<line x1="697.00" y1="89.70" x2="703.80" y2="89.70" stroke="#333" stroke-width="1.3"/>
<text x="694.50" y="94.80" font-size="15.43" fill="#111" stroke="#111" stroke-width="0.3" text-anchor="end" textLength="27.85" lengthAdjust="spacingAndGlyphs">150</text>
<line x1="700.20" y1="82.68" x2="703.80" y2="82.68" stroke="#555" stroke-width="1.1"/>
<line x1="700.20" y1="75.66" x2="703.80" y2="75.66" stroke="#555" stroke-width="1.1"/>
<line x1="700.20" y1="68.64" x2="703.80" y2="68.64" stroke="#555" stroke-width="1.1"/>
<line x1="700.20" y1="61.62" x2="703.80" y2="61.62" stroke="#555" stroke-width="1.1"/>
<line x1="697.00" y1="54.60" x2="703.80" y2="54.60" stroke="#333" stroke-width="1.3"/>
<text x="694.50" y="59.70" font-size="15.43" fill="#111" stroke="#111" stroke-width="0.3" text-anchor="end" textLength="27.85" lengthAdjust="spacingAndGlyphs">200</text>
<line x1="700.20" y1="47.58" x2="703.80" y2="47.58" stroke="#555" stroke-width="1.1"/>
<line x1="700.20" y1="40.56" x2="703.80" y2="40.56" stroke="#555" stroke-width="1.1"/>
<line x1="700.20" y1="33.54" x2="703.80" y2="33.54" stroke="#555" stroke-width="1.1"/>
<line x1="788.00" y1="195.00" x2="788.00" y2="199.00" stroke="#222" stroke-width="1.5"/>
<line x1="805.57" y1="195.00" x2="805.57" y2="197.60" stroke="#444" stroke-width="1.0"/>
<line x1="815.85" y1="195.00" x2="815.85" y2="197.60" stroke="#444" stroke-width="1.0"/>
<line x1="823.14" y1="195.00" x2="823.14" y2="197.60" stroke="#444" stroke-width="1.0"/>
<line x1="828.80" y1="195.00" x2="828.80" y2="197.60" stroke="#444" stroke-width="1.0"/>
<line x1="833.42" y1="195.00" x2="833.42" y2="197.60" stroke="#444" stroke-width="1.0"/>
<line x1="837.33" y1="195.00" x2="837.33" y2="197.60" stroke="#444" stroke-width="1.0"/>
<line x1="840.71" y1="195.00" x2="840.71" y2="197.60" stroke="#444" stroke-width="1.0"/>
<line x1="843.70" y1="195.00" x2="843.70" y2="197.60" stroke="#444" stroke-width="1.0"/>
<line x1="716.49" y1="195.00" x2="716.49" y2="199.00" stroke="#222" stroke-width="1.5"/>
<line x1="846.37" y1="195.00" x2="846.37" y2="199.00" stroke="#222" stroke-width="1.5"/>
<line x1="862.24" y1="195.00" x2="862.24" y2="197.60" stroke="#444" stroke-width="1.0"/>
<line x1="871.53" y1="195.00" x2="871.53" y2="197.60" stroke="#444" stroke-width="1.0"/>
<line x1="878.12" y1="195.00" x2="878.12" y2="197.60" stroke="#444" stroke-width="1.0"/>
<line x1="883.23" y1="195.00" x2="883.23" y2="197.60" stroke="#444" stroke-width="1.0"/>
<line x1="887.40" y1="195.00" x2="887.40" y2="197.60" stroke="#444" stroke-width="1.0"/>
<line x1="890.93" y1="195.00" x2="890.93" y2="197.60" stroke="#444" stroke-width="1.0"/>
<line x1="893.99" y1="195.00" x2="893.99" y2="197.60" stroke="#444" stroke-width="1.0"/>
<line x1="896.69" y1="195.00" x2="896.69" y2="197.60" stroke="#444" stroke-width="1.0"/>
<line x1="899.10" y1="195.00" x2="899.10" y2="199.00" stroke="#222" stroke-width="1.5"/>
<line x1="914.97" y1="195.00" x2="914.97" y2="197.60" stroke="#444" stroke-width="1.0"/>
<line x1="755.87" y1="195.00" x2="755.87" y2="197.20" stroke="#444" stroke-width="1.0"/>
<line x1="759.44" y1="195.00" x2="759.44" y2="197.20" stroke="#444" stroke-width="1.0"/>
<line x1="763.01" y1="195.00" x2="763.01" y2="197.20" stroke="#444" stroke-width="1.0"/>
<line x1="766.58" y1="195.00" x2="766.58" y2="197.20" stroke="#444" stroke-width="1.0"/>
<line x1="770.15" y1="195.00" x2="770.15" y2="197.20" stroke="#444" stroke-width="1.0"/>
<line x1="773.72" y1="195.00" x2="773.72" y2="197.20" stroke="#444" stroke-width="1.0"/>
<line x1="777.29" y1="195.00" x2="777.29" y2="197.20" stroke="#444" stroke-width="1.0"/>
<line x1="780.86" y1="195.00" x2="780.86" y2="197.20" stroke="#444" stroke-width="1.0"/>
<line x1="784.43" y1="195.00" x2="784.43" y2="197.20" stroke="#444" stroke-width="1.0"/>
<line x1="748.72" y1="195.00" x2="748.72" y2="197.20" stroke="#444" stroke-width="1.0"/>
<line x1="745.14" y1="195.00" x2="745.14" y2="197.20" stroke="#444" stroke-width="1.0"/>
<line x1="741.56" y1="195.00" x2="741.56" y2="197.20" stroke="#444" stroke-width="1.0"/>
<line x1="737.98" y1="195.00" x2="737.98" y2="197.20" stroke="#444" stroke-width="1.0"/>
<line x1="734.40" y1="195.00" x2="734.40" y2="197.20" stroke="#444" stroke-width="1.0"/>
<line x1="730.82" y1="195.00" x2="730.82" y2="197.20" stroke="#444" stroke-width="1.0"/>
<line x1="727.24" y1="195.00" x2="727.24" y2="197.20" stroke="#444" stroke-width="1.0"/>
<line x1="723.66" y1="195.00" x2="723.66" y2="197.20" stroke="#444" stroke-width="1.0"/>
<line x1="720.07" y1="195.00" x2="720.07" y2="197.20" stroke="#444" stroke-width="1.0"/>
<rect x="748.30" y="195.00" width="8.00" height="3.20" fill="#111" stroke="none" stroke-width="0"/>
<path d="M760.0,376.4 L766.3,375.2 L771.4,369.8 L776.5,361.0 L780.3,347.0 L784.8,331.7 L787.3,316.5 L789.8,296.2 L791.1,282.2 L793.3,281.0 L794.9,273.3 L796.8,258.1 L798.1,251.7 L800.6,248.6 L801.9,240.3 L803.8,233.3 L805.1,239.0 L807.6,235.9 L810.2,237.1 L813.3,237.8 L815.0,238.4 L816.5,246.7 L819.0,253.0 L820.3,263.2 L822.2,283.5 L824.1,291.1 L826.7,294.9 L829.2,302.5 L831.1,316.5 L833.7,330.5 L836.2,343.2 L839.4,355.9 L842.5,366.0 L847.6,373.7 L852.7,376.2 L856.5,376.4 L856.5,376.3 L760.0,376.3 Z" fill="#999999" stroke="none" stroke-width="0"/>
<path d="M760.0,376.4 L766.3,375.2 L771.4,369.8 L776.5,361.0 L780.3,347.0 L784.8,331.7 L787.3,316.5 L789.8,296.2 L791.1,282.2 L793.3,281.0 L794.9,273.3 L796.8,258.1 L798.1,251.7 L800.6,248.6 L801.9,240.3 L803.8,233.3 L805.1,239.0 L807.6,235.9 L810.2,237.1 L813.3,237.8 L815.0,238.4 L816.5,246.7 L819.0,253.0 L820.3,263.2 L822.2,283.5 L824.1,291.1 L826.7,294.9 L829.2,302.5 L831.1,316.5 L833.7,330.5 L836.2,343.2 L839.4,355.9 L842.5,366.0 L847.6,373.7 L852.7,376.2 L856.5,376.4" fill="none" stroke="#000" stroke-width="1.65" stroke-linejoin="round"/>
<rect x="702.80" y="207.80" width="218.00" height="168.50" fill="none" stroke="#555" stroke-width="1.2"/>
<line x1="696.00" y1="376.30" x2="702.80" y2="376.30" stroke="#333" stroke-width="1.3"/>
<text x="693.50" y="381.40" font-size="15.43" fill="#111" stroke="#111" stroke-width="0.3" text-anchor="end" textLength="10.35" lengthAdjust="spacingAndGlyphs">0</text>
<line x1="699.20" y1="370.46" x2="702.80" y2="370.46" stroke="#555" stroke-width="1.1"/>
<line x1="699.20" y1="364.62" x2="702.80" y2="364.62" stroke="#555" stroke-width="1.1"/>
<line x1="699.20" y1="358.78" x2="702.80" y2="358.78" stroke="#555" stroke-width="1.1"/>
<line x1="699.20" y1="352.94" x2="702.80" y2="352.94" stroke="#555" stroke-width="1.1"/>
<line x1="696.00" y1="347.10" x2="702.80" y2="347.10" stroke="#333" stroke-width="1.3"/>
<text x="693.50" y="352.20" font-size="15.43" fill="#111" stroke="#111" stroke-width="0.3" text-anchor="end" textLength="19.10" lengthAdjust="spacingAndGlyphs">20</text>
<line x1="699.20" y1="341.26" x2="702.80" y2="341.26" stroke="#555" stroke-width="1.1"/>
<line x1="699.20" y1="335.42" x2="702.80" y2="335.42" stroke="#555" stroke-width="1.1"/>
<line x1="699.20" y1="329.58" x2="702.80" y2="329.58" stroke="#555" stroke-width="1.1"/>
<line x1="699.20" y1="323.74" x2="702.80" y2="323.74" stroke="#555" stroke-width="1.1"/>
<line x1="696.00" y1="317.90" x2="702.80" y2="317.90" stroke="#333" stroke-width="1.3"/>
<text x="693.50" y="323.00" font-size="15.43" fill="#111" stroke="#111" stroke-width="0.3" text-anchor="end" textLength="19.10" lengthAdjust="spacingAndGlyphs">40</text>
<line x1="699.20" y1="312.06" x2="702.80" y2="312.06" stroke="#555" stroke-width="1.1"/>
<line x1="699.20" y1="306.22" x2="702.80" y2="306.22" stroke="#555" stroke-width="1.1"/>
<line x1="699.20" y1="300.38" x2="702.80" y2="300.38" stroke="#555" stroke-width="1.1"/>
<line x1="699.20" y1="294.54" x2="702.80" y2="294.54" stroke="#555" stroke-width="1.1"/>
<line x1="696.00" y1="288.70" x2="702.80" y2="288.70" stroke="#333" stroke-width="1.3"/>
<text x="693.50" y="293.80" font-size="15.43" fill="#111" stroke="#111" stroke-width="0.3" text-anchor="end" textLength="19.10" lengthAdjust="spacingAndGlyphs">60</text>
<line x1="699.20" y1="282.86" x2="702.80" y2="282.86" stroke="#555" stroke-width="1.1"/>
<line x1="699.20" y1="277.02" x2="702.80" y2="277.02" stroke="#555" stroke-width="1.1"/>
<line x1="699.20" y1="271.18" x2="702.80" y2="271.18" stroke="#555" stroke-width="1.1"/>
<line x1="699.20" y1="265.34" x2="702.80" y2="265.34" stroke="#555" stroke-width="1.1"/>
<line x1="696.00" y1="259.50" x2="702.80" y2="259.50" stroke="#333" stroke-width="1.3"/>
<text x="693.50" y="264.60" font-size="15.43" fill="#111" stroke="#111" stroke-width="0.3" text-anchor="end" textLength="19.10" lengthAdjust="spacingAndGlyphs">80</text>
<line x1="699.20" y1="253.66" x2="702.80" y2="253.66" stroke="#555" stroke-width="1.1"/>
<line x1="699.20" y1="247.82" x2="702.80" y2="247.82" stroke="#555" stroke-width="1.1"/>
<line x1="699.20" y1="241.98" x2="702.80" y2="241.98" stroke="#555" stroke-width="1.1"/>
<line x1="699.20" y1="236.14" x2="702.80" y2="236.14" stroke="#555" stroke-width="1.1"/>
<line x1="696.00" y1="230.30" x2="702.80" y2="230.30" stroke="#333" stroke-width="1.3"/>
<text x="693.50" y="235.40" font-size="15.43" fill="#111" stroke="#111" stroke-width="0.3" text-anchor="end" textLength="27.85" lengthAdjust="spacingAndGlyphs">100</text>
<line x1="699.20" y1="224.46" x2="702.80" y2="224.46" stroke="#555" stroke-width="1.1"/>
<line x1="699.20" y1="218.62" x2="702.80" y2="218.62" stroke="#555" stroke-width="1.1"/>
<line x1="699.20" y1="212.78" x2="702.80" y2="212.78" stroke="#555" stroke-width="1.1"/>
<line x1="787.38" y1="376.30" x2="787.38" y2="380.30" stroke="#222" stroke-width="1.5"/>
<line x1="805.04" y1="376.30" x2="805.04" y2="378.90" stroke="#444" stroke-width="1.0"/>
<line x1="815.36" y1="376.30" x2="815.36" y2="378.90" stroke="#444" stroke-width="1.0"/>
<line x1="822.69" y1="376.30" x2="822.69" y2="378.90" stroke="#444" stroke-width="1.0"/>
<line x1="828.37" y1="376.30" x2="828.37" y2="378.90" stroke="#444" stroke-width="1.0"/>
<line x1="833.02" y1="376.30" x2="833.02" y2="378.90" stroke="#444" stroke-width="1.0"/>
<line x1="836.94" y1="376.30" x2="836.94" y2="378.90" stroke="#444" stroke-width="1.0"/>
<line x1="840.34" y1="376.30" x2="840.34" y2="378.90" stroke="#444" stroke-width="1.0"/>
<line x1="843.34" y1="376.30" x2="843.34" y2="378.90" stroke="#444" stroke-width="1.0"/>
<line x1="715.55" y1="376.30" x2="715.55" y2="380.30" stroke="#222" stroke-width="1.5"/>
<line x1="846.03" y1="376.30" x2="846.03" y2="380.30" stroke="#222" stroke-width="1.5"/>
<line x1="861.97" y1="376.30" x2="861.97" y2="378.90" stroke="#444" stroke-width="1.0"/>
<line x1="871.30" y1="376.30" x2="871.30" y2="378.90" stroke="#444" stroke-width="1.0"/>
<line x1="877.92" y1="376.30" x2="877.92" y2="378.90" stroke="#444" stroke-width="1.0"/>
<line x1="883.05" y1="376.30" x2="883.05" y2="378.90" stroke="#444" stroke-width="1.0"/>
<line x1="887.25" y1="376.30" x2="887.25" y2="378.90" stroke="#444" stroke-width="1.0"/>
<line x1="890.79" y1="376.30" x2="890.79" y2="378.90" stroke="#444" stroke-width="1.0"/>
<line x1="893.87" y1="376.30" x2="893.87" y2="378.90" stroke="#444" stroke-width="1.0"/>
<line x1="896.58" y1="376.30" x2="896.58" y2="378.90" stroke="#444" stroke-width="1.0"/>
<line x1="899.00" y1="376.30" x2="899.00" y2="380.30" stroke="#222" stroke-width="1.5"/>
<line x1="914.95" y1="376.30" x2="914.95" y2="378.90" stroke="#444" stroke-width="1.0"/>
<line x1="755.11" y1="376.30" x2="755.11" y2="378.50" stroke="#444" stroke-width="1.0"/>
<line x1="758.70" y1="376.30" x2="758.70" y2="378.50" stroke="#444" stroke-width="1.0"/>
<line x1="762.28" y1="376.30" x2="762.28" y2="378.50" stroke="#444" stroke-width="1.0"/>
<line x1="765.87" y1="376.30" x2="765.87" y2="378.50" stroke="#444" stroke-width="1.0"/>
<line x1="769.45" y1="376.30" x2="769.45" y2="378.50" stroke="#444" stroke-width="1.0"/>
<line x1="773.04" y1="376.30" x2="773.04" y2="378.50" stroke="#444" stroke-width="1.0"/>
<line x1="776.63" y1="376.30" x2="776.63" y2="378.50" stroke="#444" stroke-width="1.0"/>
<line x1="780.21" y1="376.30" x2="780.21" y2="378.50" stroke="#444" stroke-width="1.0"/>
<line x1="783.80" y1="376.30" x2="783.80" y2="378.50" stroke="#444" stroke-width="1.0"/>
<line x1="747.93" y1="376.30" x2="747.93" y2="378.50" stroke="#444" stroke-width="1.0"/>
<line x1="744.33" y1="376.30" x2="744.33" y2="378.50" stroke="#444" stroke-width="1.0"/>
<line x1="740.73" y1="376.30" x2="740.73" y2="378.50" stroke="#444" stroke-width="1.0"/>
<line x1="737.13" y1="376.30" x2="737.13" y2="378.50" stroke="#444" stroke-width="1.0"/>
<line x1="733.54" y1="376.30" x2="733.54" y2="378.50" stroke="#444" stroke-width="1.0"/>
<line x1="729.94" y1="376.30" x2="729.94" y2="378.50" stroke="#444" stroke-width="1.0"/>
<line x1="726.34" y1="376.30" x2="726.34" y2="378.50" stroke="#444" stroke-width="1.0"/>
<line x1="722.75" y1="376.30" x2="722.75" y2="378.50" stroke="#444" stroke-width="1.0"/>
<line x1="719.15" y1="376.30" x2="719.15" y2="378.50" stroke="#444" stroke-width="1.0"/>
<rect x="747.52" y="376.30" width="8.00" height="3.20" fill="#111" stroke="none" stroke-width="0"/>
<path d="M767.0,561.3 L773.6,559.6 L780.2,552.4 L785.4,541.9 L789.3,530.1 L793.3,513.0 L797.2,494.7 L800.5,476.3 L801.8,468.4 L803.8,460.6 L806.4,446.1 L808.4,429.1 L810.6,419.9 L812.3,423.2 L813.6,427.8 L815.6,416.0 L818.6,399.6 L820.2,409.4 L821.9,425.2 L823.7,421.2 L825.4,426.5 L827.4,438.3 L829.3,451.4 L831.3,458.0 L833.9,473.7 L836.6,489.4 L839.2,506.5 L841.8,520.9 L845.7,538.0 L849.7,549.8 L854.9,558.3 L860.2,561.3 L860.2,561.0 L767.0,561.0 Z" fill="#999999" stroke="none" stroke-width="0"/>
<path d="M767.0,561.3 L773.6,559.6 L780.2,552.4 L785.4,541.9 L789.3,530.1 L793.3,513.0 L797.2,494.7 L800.5,476.3 L801.8,468.4 L803.8,460.6 L806.4,446.1 L808.4,429.1 L810.6,419.9 L812.3,423.2 L813.6,427.8 L815.6,416.0 L818.6,399.6 L820.2,409.4 L821.9,425.2 L823.7,421.2 L825.4,426.5 L827.4,438.3 L829.3,451.4 L831.3,458.0 L833.9,473.7 L836.6,489.4 L839.2,506.5 L841.8,520.9 L845.7,538.0 L849.7,549.8 L854.9,558.3 L860.2,561.3" fill="none" stroke="#000" stroke-width="1.65" stroke-linejoin="round"/>
<rect x="700.60" y="389.10" width="222.30" height="171.90" fill="none" stroke="#555" stroke-width="1.2"/>
<line x1="693.80" y1="561.00" x2="700.60" y2="561.00" stroke="#333" stroke-width="1.3"/>
<text x="691.30" y="566.10" font-size="15.43" fill="#111" stroke="#111" stroke-width="0.3" text-anchor="end" textLength="10.35" lengthAdjust="spacingAndGlyphs">0</text>
<line x1="697.00" y1="555.22" x2="700.60" y2="555.22" stroke="#555" stroke-width="1.1"/>
<line x1="697.00" y1="549.44" x2="700.60" y2="549.44" stroke="#555" stroke-width="1.1"/>
<line x1="697.00" y1="543.66" x2="700.60" y2="543.66" stroke="#555" stroke-width="1.1"/>
<line x1="697.00" y1="537.88" x2="700.60" y2="537.88" stroke="#555" stroke-width="1.1"/>
<line x1="693.80" y1="532.10" x2="700.60" y2="532.10" stroke="#333" stroke-width="1.3"/>
<text x="691.30" y="537.20" font-size="15.43" fill="#111" stroke="#111" stroke-width="0.3" text-anchor="end" textLength="27.85" lengthAdjust="spacingAndGlyphs">100</text>
<line x1="697.00" y1="526.32" x2="700.60" y2="526.32" stroke="#555" stroke-width="1.1"/>
<line x1="697.00" y1="520.54" x2="700.60" y2="520.54" stroke="#555" stroke-width="1.1"/>
<line x1="697.00" y1="514.76" x2="700.60" y2="514.76" stroke="#555" stroke-width="1.1"/>
<line x1="697.00" y1="508.98" x2="700.60" y2="508.98" stroke="#555" stroke-width="1.1"/>
<line x1="693.80" y1="503.20" x2="700.60" y2="503.20" stroke="#333" stroke-width="1.3"/>
<text x="691.30" y="508.30" font-size="15.43" fill="#111" stroke="#111" stroke-width="0.3" text-anchor="end" textLength="27.85" lengthAdjust="spacingAndGlyphs">200</text>
<line x1="697.00" y1="497.42" x2="700.60" y2="497.42" stroke="#555" stroke-width="1.1"/>
<line x1="697.00" y1="491.64" x2="700.60" y2="491.64" stroke="#555" stroke-width="1.1"/>
<line x1="697.00" y1="485.86" x2="700.60" y2="485.86" stroke="#555" stroke-width="1.1"/>
<line x1="697.00" y1="480.08" x2="700.60" y2="480.08" stroke="#555" stroke-width="1.1"/>
<line x1="693.80" y1="474.30" x2="700.60" y2="474.30" stroke="#333" stroke-width="1.3"/>
<text x="691.30" y="479.40" font-size="15.43" fill="#111" stroke="#111" stroke-width="0.3" text-anchor="end" textLength="27.85" lengthAdjust="spacingAndGlyphs">300</text>
<line x1="697.00" y1="468.52" x2="700.60" y2="468.52" stroke="#555" stroke-width="1.1"/>
<line x1="697.00" y1="462.74" x2="700.60" y2="462.74" stroke="#555" stroke-width="1.1"/>
<line x1="697.00" y1="456.96" x2="700.60" y2="456.96" stroke="#555" stroke-width="1.1"/>
<line x1="697.00" y1="451.18" x2="700.60" y2="451.18" stroke="#555" stroke-width="1.1"/>
<line x1="693.80" y1="445.40" x2="700.60" y2="445.40" stroke="#333" stroke-width="1.3"/>
<text x="691.30" y="450.50" font-size="15.43" fill="#111" stroke="#111" stroke-width="0.3" text-anchor="end" textLength="27.85" lengthAdjust="spacingAndGlyphs">400</text>
<line x1="697.00" y1="439.62" x2="700.60" y2="439.62" stroke="#555" stroke-width="1.1"/>
<line x1="697.00" y1="433.84" x2="700.60" y2="433.84" stroke="#555" stroke-width="1.1"/>
<line x1="697.00" y1="428.06" x2="700.60" y2="428.06" stroke="#555" stroke-width="1.1"/>
<line x1="697.00" y1="422.28" x2="700.60" y2="422.28" stroke="#555" stroke-width="1.1"/>
<line x1="693.80" y1="416.50" x2="700.60" y2="416.50" stroke="#333" stroke-width="1.3"/>
<text x="691.30" y="421.60" font-size="15.43" fill="#111" stroke="#111" stroke-width="0.3" text-anchor="end" textLength="27.85" lengthAdjust="spacingAndGlyphs">500</text>
<line x1="697.00" y1="410.72" x2="700.60" y2="410.72" stroke="#555" stroke-width="1.1"/>
<line x1="697.00" y1="404.94" x2="700.60" y2="404.94" stroke="#555" stroke-width="1.1"/>
<line x1="697.00" y1="399.16" x2="700.60" y2="399.16" stroke="#555" stroke-width="1.1"/>
<line x1="697.00" y1="393.38" x2="700.60" y2="393.38" stroke="#555" stroke-width="1.1"/>
<line x1="786.85" y1="561.00" x2="786.85" y2="565.00" stroke="#222" stroke-width="1.5"/>
<line x1="804.85" y1="561.00" x2="804.85" y2="563.60" stroke="#444" stroke-width="1.0"/>
<line x1="815.38" y1="561.00" x2="815.38" y2="563.60" stroke="#444" stroke-width="1.0"/>
<line x1="822.85" y1="561.00" x2="822.85" y2="563.60" stroke="#444" stroke-width="1.0"/>
<line x1="828.65" y1="561.00" x2="828.65" y2="563.60" stroke="#444" stroke-width="1.0"/>
<line x1="833.38" y1="561.00" x2="833.38" y2="563.60" stroke="#444" stroke-width="1.0"/>
<line x1="837.39" y1="561.00" x2="837.39" y2="563.60" stroke="#444" stroke-width="1.0"/>
<line x1="840.86" y1="561.00" x2="840.86" y2="563.60" stroke="#444" stroke-width="1.0"/>
<line x1="843.91" y1="561.00" x2="843.91" y2="563.60" stroke="#444" stroke-width="1.0"/>
<line x1="713.60" y1="561.00" x2="713.60" y2="565.00" stroke="#222" stroke-width="1.5"/>
<line x1="846.65" y1="561.00" x2="846.65" y2="565.00" stroke="#222" stroke-width="1.5"/>
<line x1="862.91" y1="561.00" x2="862.91" y2="563.60" stroke="#444" stroke-width="1.0"/>
<line x1="872.42" y1="561.00" x2="872.42" y2="563.60" stroke="#444" stroke-width="1.0"/>
<line x1="879.17" y1="561.00" x2="879.17" y2="563.60" stroke="#444" stroke-width="1.0"/>
<line x1="884.41" y1="561.00" x2="884.41" y2="563.60" stroke="#444" stroke-width="1.0"/>
<line x1="888.69" y1="561.00" x2="888.69" y2="563.60" stroke="#444" stroke-width="1.0"/>
<line x1="892.30" y1="561.00" x2="892.30" y2="563.60" stroke="#444" stroke-width="1.0"/>
<line x1="895.44" y1="561.00" x2="895.44" y2="563.60" stroke="#444" stroke-width="1.0"/>
<line x1="898.20" y1="561.00" x2="898.20" y2="563.60" stroke="#444" stroke-width="1.0"/>
<line x1="900.67" y1="561.00" x2="900.67" y2="565.00" stroke="#222" stroke-width="1.5"/>
<line x1="916.93" y1="561.00" x2="916.93" y2="563.60" stroke="#444" stroke-width="1.0"/>
<line x1="753.94" y1="561.00" x2="753.94" y2="563.20" stroke="#444" stroke-width="1.0"/>
<line x1="757.60" y1="561.00" x2="757.60" y2="563.20" stroke="#444" stroke-width="1.0"/>
<line x1="761.25" y1="561.00" x2="761.25" y2="563.20" stroke="#444" stroke-width="1.0"/>
<line x1="764.91" y1="561.00" x2="764.91" y2="563.20" stroke="#444" stroke-width="1.0"/>
<line x1="768.57" y1="561.00" x2="768.57" y2="563.20" stroke="#444" stroke-width="1.0"/>
<line x1="772.23" y1="561.00" x2="772.23" y2="563.20" stroke="#444" stroke-width="1.0"/>
<line x1="775.88" y1="561.00" x2="775.88" y2="563.20" stroke="#444" stroke-width="1.0"/>
<line x1="779.54" y1="561.00" x2="779.54" y2="563.20" stroke="#444" stroke-width="1.0"/>
<line x1="783.20" y1="561.00" x2="783.20" y2="563.20" stroke="#444" stroke-width="1.0"/>
<line x1="746.62" y1="561.00" x2="746.62" y2="563.20" stroke="#444" stroke-width="1.0"/>
<line x1="742.95" y1="561.00" x2="742.95" y2="563.20" stroke="#444" stroke-width="1.0"/>
<line x1="739.28" y1="561.00" x2="739.28" y2="563.20" stroke="#444" stroke-width="1.0"/>
<line x1="735.61" y1="561.00" x2="735.61" y2="563.20" stroke="#444" stroke-width="1.0"/>
<line x1="731.94" y1="561.00" x2="731.94" y2="563.20" stroke="#444" stroke-width="1.0"/>
<line x1="728.28" y1="561.00" x2="728.28" y2="563.20" stroke="#444" stroke-width="1.0"/>
<line x1="724.61" y1="561.00" x2="724.61" y2="563.20" stroke="#444" stroke-width="1.0"/>
<line x1="720.94" y1="561.00" x2="720.94" y2="563.20" stroke="#444" stroke-width="1.0"/>
<line x1="717.27" y1="561.00" x2="717.27" y2="563.20" stroke="#444" stroke-width="1.0"/>
<rect x="746.28" y="561.00" width="8.00" height="3.20" fill="#111" stroke="none" stroke-width="0"/>
<path d="M774.1,748.1 L781.0,745.1 L787.9,743.0 L794.1,738.9 L798.9,731.3 L803.7,717.6 L808.5,708.6 L811.3,702.4 L814.0,690.1 L817.5,676.3 L819.5,662.5 L822.3,656.4 L826.4,641.9 L830.5,626.8 L832.6,614.4 L834.0,604.8 L836.0,608.2 L837.4,605.5 L840.2,602.7 L843.6,599.3 L845.7,592.4 L847.7,599.3 L850.5,607.5 L852.5,619.2 L854.6,621.3 L857.4,639.2 L860.1,657.0 L862.2,684.6 L865.6,703.8 L869.1,728.6 L874.6,741.0 L878.7,747.6 L882.8,748.1 L882.8,748.0 L774.1,748.0 Z" fill="#999999" stroke="none" stroke-width="0"/>
<path d="M774.1,748.1 L781.0,745.1 L787.9,743.0 L794.1,738.9 L798.9,731.3 L803.7,717.6 L808.5,708.6 L811.3,702.4 L814.0,690.1 L817.5,676.3 L819.5,662.5 L822.3,656.4 L826.4,641.9 L830.5,626.8 L832.6,614.4 L834.0,604.8 L836.0,608.2 L837.4,605.5 L840.2,602.7 L843.6,599.3 L845.7,592.4 L847.7,599.3 L850.5,607.5 L852.5,619.2 L854.6,621.3 L857.4,639.2 L860.1,657.0 L862.2,684.6 L865.6,703.8 L869.1,728.6 L874.6,741.0 L878.7,747.6 L882.8,748.1" fill="none" stroke="#000" stroke-width="1.65" stroke-linejoin="round"/>
<rect x="702.80" y="572.90" width="226.10" height="175.10" fill="none" stroke="#555" stroke-width="1.2"/>
<line x1="696.00" y1="748.00" x2="702.80" y2="748.00" stroke="#333" stroke-width="1.3"/>
<text x="693.50" y="753.10" font-size="15.43" fill="#111" stroke="#111" stroke-width="0.3" text-anchor="end" textLength="10.35" lengthAdjust="spacingAndGlyphs">0</text>
<line x1="699.20" y1="741.41" x2="702.80" y2="741.41" stroke="#555" stroke-width="1.1"/>
<line x1="699.20" y1="734.82" x2="702.80" y2="734.82" stroke="#555" stroke-width="1.1"/>
<line x1="699.20" y1="728.22" x2="702.80" y2="728.22" stroke="#555" stroke-width="1.1"/>
<line x1="699.20" y1="721.63" x2="702.80" y2="721.63" stroke="#555" stroke-width="1.1"/>
<line x1="696.00" y1="715.04" x2="702.80" y2="715.04" stroke="#333" stroke-width="1.3"/>
<text x="693.50" y="720.14" font-size="15.43" fill="#111" stroke="#111" stroke-width="0.3" text-anchor="end" textLength="19.10" lengthAdjust="spacingAndGlyphs">50</text>
<line x1="699.20" y1="708.45" x2="702.80" y2="708.45" stroke="#555" stroke-width="1.1"/>
<line x1="699.20" y1="701.86" x2="702.80" y2="701.86" stroke="#555" stroke-width="1.1"/>
<line x1="699.20" y1="695.26" x2="702.80" y2="695.26" stroke="#555" stroke-width="1.1"/>
<line x1="699.20" y1="688.67" x2="702.80" y2="688.67" stroke="#555" stroke-width="1.1"/>
<line x1="696.00" y1="682.08" x2="702.80" y2="682.08" stroke="#333" stroke-width="1.3"/>
<text x="693.50" y="687.18" font-size="15.43" fill="#111" stroke="#111" stroke-width="0.3" text-anchor="end" textLength="27.85" lengthAdjust="spacingAndGlyphs">100</text>
<line x1="699.20" y1="675.49" x2="702.80" y2="675.49" stroke="#555" stroke-width="1.1"/>
<line x1="699.20" y1="668.90" x2="702.80" y2="668.90" stroke="#555" stroke-width="1.1"/>
<line x1="699.20" y1="662.30" x2="702.80" y2="662.30" stroke="#555" stroke-width="1.1"/>
<line x1="699.20" y1="655.71" x2="702.80" y2="655.71" stroke="#555" stroke-width="1.1"/>
<line x1="696.00" y1="649.12" x2="702.80" y2="649.12" stroke="#333" stroke-width="1.3"/>
<text x="693.50" y="654.22" font-size="15.43" fill="#111" stroke="#111" stroke-width="0.3" text-anchor="end" textLength="27.85" lengthAdjust="spacingAndGlyphs">150</text>
<line x1="699.20" y1="642.53" x2="702.80" y2="642.53" stroke="#555" stroke-width="1.1"/>
<line x1="699.20" y1="635.94" x2="702.80" y2="635.94" stroke="#555" stroke-width="1.1"/>
<line x1="699.20" y1="629.34" x2="702.80" y2="629.34" stroke="#555" stroke-width="1.1"/>
<line x1="699.20" y1="622.75" x2="702.80" y2="622.75" stroke="#555" stroke-width="1.1"/>
<line x1="696.00" y1="616.16" x2="702.80" y2="616.16" stroke="#333" stroke-width="1.3"/>
<text x="693.50" y="621.26" font-size="15.43" fill="#111" stroke="#111" stroke-width="0.3" text-anchor="end" textLength="27.85" lengthAdjust="spacingAndGlyphs">200</text>
<line x1="699.20" y1="609.57" x2="702.80" y2="609.57" stroke="#555" stroke-width="1.1"/>
<line x1="699.20" y1="602.98" x2="702.80" y2="602.98" stroke="#555" stroke-width="1.1"/>
<line x1="699.20" y1="596.38" x2="702.80" y2="596.38" stroke="#555" stroke-width="1.1"/>
<line x1="699.20" y1="589.79" x2="702.80" y2="589.79" stroke="#555" stroke-width="1.1"/>
<line x1="696.00" y1="583.20" x2="702.80" y2="583.20" stroke="#333" stroke-width="1.3"/>
<text x="693.50" y="588.30" font-size="15.43" fill="#111" stroke="#111" stroke-width="0.3" text-anchor="end" textLength="27.85" lengthAdjust="spacingAndGlyphs">250</text>
<line x1="699.20" y1="576.61" x2="702.80" y2="576.61" stroke="#555" stroke-width="1.1"/>
<line x1="790.53" y1="748.00" x2="790.53" y2="752.00" stroke="#222" stroke-width="1.5"/>
<line x1="808.84" y1="748.00" x2="808.84" y2="750.60" stroke="#444" stroke-width="1.0"/>
<line x1="819.55" y1="748.00" x2="819.55" y2="750.60" stroke="#444" stroke-width="1.0"/>
<line x1="827.14" y1="748.00" x2="827.14" y2="750.60" stroke="#444" stroke-width="1.0"/>
<line x1="833.04" y1="748.00" x2="833.04" y2="750.60" stroke="#444" stroke-width="1.0"/>
<line x1="837.85" y1="748.00" x2="837.85" y2="750.60" stroke="#444" stroke-width="1.0"/>
<line x1="841.93" y1="748.00" x2="841.93" y2="750.60" stroke="#444" stroke-width="1.0"/>
<line x1="845.45" y1="748.00" x2="845.45" y2="750.60" stroke="#444" stroke-width="1.0"/>
<line x1="848.56" y1="748.00" x2="848.56" y2="750.60" stroke="#444" stroke-width="1.0"/>
<line x1="716.03" y1="748.00" x2="716.03" y2="752.00" stroke="#222" stroke-width="1.5"/>
<line x1="851.35" y1="748.00" x2="851.35" y2="752.00" stroke="#222" stroke-width="1.5"/>
<line x1="867.89" y1="748.00" x2="867.89" y2="750.60" stroke="#444" stroke-width="1.0"/>
<line x1="877.56" y1="748.00" x2="877.56" y2="750.60" stroke="#444" stroke-width="1.0"/>
<line x1="884.43" y1="748.00" x2="884.43" y2="750.60" stroke="#444" stroke-width="1.0"/>
<line x1="889.75" y1="748.00" x2="889.75" y2="750.60" stroke="#444" stroke-width="1.0"/>
<line x1="894.10" y1="748.00" x2="894.10" y2="750.60" stroke="#444" stroke-width="1.0"/>
<line x1="897.78" y1="748.00" x2="897.78" y2="750.60" stroke="#444" stroke-width="1.0"/>
<line x1="900.97" y1="748.00" x2="900.97" y2="750.60" stroke="#444" stroke-width="1.0"/>
<line x1="903.78" y1="748.00" x2="903.78" y2="750.60" stroke="#444" stroke-width="1.0"/>
<line x1="906.29" y1="748.00" x2="906.29" y2="752.00" stroke="#222" stroke-width="1.5"/>
<line x1="922.83" y1="748.00" x2="922.83" y2="750.60" stroke="#444" stroke-width="1.0"/>
<line x1="757.05" y1="748.00" x2="757.05" y2="750.20" stroke="#444" stroke-width="1.0"/>
<line x1="760.77" y1="748.00" x2="760.77" y2="750.20" stroke="#444" stroke-width="1.0"/>
<line x1="764.49" y1="748.00" x2="764.49" y2="750.20" stroke="#444" stroke-width="1.0"/>
<line x1="768.21" y1="748.00" x2="768.21" y2="750.20" stroke="#444" stroke-width="1.0"/>
<line x1="771.93" y1="748.00" x2="771.93" y2="750.20" stroke="#444" stroke-width="1.0"/>
<line x1="775.65" y1="748.00" x2="775.65" y2="750.20" stroke="#444" stroke-width="1.0"/>
<line x1="779.37" y1="748.00" x2="779.37" y2="750.20" stroke="#444" stroke-width="1.0"/>
<line x1="783.09" y1="748.00" x2="783.09" y2="750.20" stroke="#444" stroke-width="1.0"/>
<line x1="786.81" y1="748.00" x2="786.81" y2="750.20" stroke="#444" stroke-width="1.0"/>
<line x1="749.60" y1="748.00" x2="749.60" y2="750.20" stroke="#444" stroke-width="1.0"/>
<line x1="745.87" y1="748.00" x2="745.87" y2="750.20" stroke="#444" stroke-width="1.0"/>
<line x1="742.14" y1="748.00" x2="742.14" y2="750.20" stroke="#444" stroke-width="1.0"/>
<line x1="738.41" y1="748.00" x2="738.41" y2="750.20" stroke="#444" stroke-width="1.0"/>
<line x1="734.68" y1="748.00" x2="734.68" y2="750.20" stroke="#444" stroke-width="1.0"/>
<line x1="730.95" y1="748.00" x2="730.95" y2="750.20" stroke="#444" stroke-width="1.0"/>
<line x1="727.22" y1="748.00" x2="727.22" y2="750.20" stroke="#444" stroke-width="1.0"/>
<line x1="723.49" y1="748.00" x2="723.49" y2="750.20" stroke="#444" stroke-width="1.0"/>
<line x1="719.76" y1="748.00" x2="719.76" y2="750.20" stroke="#444" stroke-width="1.0"/>
<rect x="749.33" y="748.00" width="8.00" height="3.20" fill="#111" stroke="none" stroke-width="0"/>
<path d="M745.9,939.5 L753.8,937.5 L759.4,933.5 L763.3,924.0 L767.3,904.9 L770.5,881.1 L772.9,855.7 L774.4,830.3 L776.0,814.4 L778.4,809.7 L780.8,793.8 L785.6,784.3 L789.5,793.8 L793.5,811.3 L796.7,816.0 L800.6,833.5 L803.8,838.3 L806.2,844.6 L808.6,852.5 L811.0,849.4 L814.1,860.5 L818.1,847.8 L820.5,858.9 L823.7,868.4 L827.6,862.1 L831.6,866.8 L835.6,871.6 L839.5,873.2 L844.3,887.5 L848.3,887.5 L852.2,900.2 L855.4,916.0 L860.2,922.4 L864.9,933.5 L871.3,938.3 L879.2,939.5 L879.2,939.2 L745.9,939.2 Z" fill="#999999" stroke="none" stroke-width="0"/>
<path d="M745.9,939.5 L753.8,937.5 L759.4,933.5 L763.3,924.0 L767.3,904.9 L770.5,881.1 L772.9,855.7 L774.4,830.3 L776.0,814.4 L778.4,809.7 L780.8,793.8 L785.6,784.3 L789.5,793.8 L793.5,811.3 L796.7,816.0 L800.6,833.5 L803.8,838.3 L806.2,844.6 L808.6,852.5 L811.0,849.4 L814.1,860.5 L818.1,847.8 L820.5,858.9 L823.7,868.4 L827.6,862.1 L831.6,866.8 L835.6,871.6 L839.5,873.2 L844.3,887.5 L848.3,887.5 L852.2,900.2 L855.4,916.0 L860.2,922.4 L864.9,933.5 L871.3,938.3 L879.2,939.5" fill="none" stroke="#000" stroke-width="1.65" stroke-linejoin="round"/>
<rect x="701.50" y="760.50" width="230.20" height="178.70" fill="none" stroke="#555" stroke-width="1.2"/>
<line x1="694.70" y1="939.20" x2="701.50" y2="939.20" stroke="#333" stroke-width="1.3"/>
<text x="692.20" y="944.30" font-size="15.43" fill="#111" stroke="#111" stroke-width="0.3" text-anchor="end" textLength="10.35" lengthAdjust="spacingAndGlyphs">0</text>
<line x1="697.90" y1="929.78" x2="701.50" y2="929.78" stroke="#555" stroke-width="1.1"/>
<line x1="697.90" y1="920.35" x2="701.50" y2="920.35" stroke="#555" stroke-width="1.1"/>
<line x1="697.90" y1="910.93" x2="701.50" y2="910.93" stroke="#555" stroke-width="1.1"/>
<line x1="694.70" y1="901.50" x2="701.50" y2="901.50" stroke="#333" stroke-width="1.3"/>
<text x="692.20" y="906.60" font-size="15.43" fill="#111" stroke="#111" stroke-width="0.3" text-anchor="end" textLength="19.10" lengthAdjust="spacingAndGlyphs">20</text>
<line x1="697.90" y1="892.08" x2="701.50" y2="892.08" stroke="#555" stroke-width="1.1"/>
<line x1="697.90" y1="882.65" x2="701.50" y2="882.65" stroke="#555" stroke-width="1.1"/>
<line x1="697.90" y1="873.23" x2="701.50" y2="873.23" stroke="#555" stroke-width="1.1"/>
<line x1="694.70" y1="863.80" x2="701.50" y2="863.80" stroke="#333" stroke-width="1.3"/>
<text x="692.20" y="868.90" font-size="15.43" fill="#111" stroke="#111" stroke-width="0.3" text-anchor="end" textLength="19.10" lengthAdjust="spacingAndGlyphs">40</text>
<line x1="697.90" y1="854.38" x2="701.50" y2="854.38" stroke="#555" stroke-width="1.1"/>
<line x1="697.90" y1="844.95" x2="701.50" y2="844.95" stroke="#555" stroke-width="1.1"/>
<line x1="697.90" y1="835.53" x2="701.50" y2="835.53" stroke="#555" stroke-width="1.1"/>
<line x1="694.70" y1="826.10" x2="701.50" y2="826.10" stroke="#333" stroke-width="1.3"/>
<text x="692.20" y="831.20" font-size="15.43" fill="#111" stroke="#111" stroke-width="0.3" text-anchor="end" textLength="19.10" lengthAdjust="spacingAndGlyphs">60</text>
<line x1="697.90" y1="816.68" x2="701.50" y2="816.68" stroke="#555" stroke-width="1.1"/>
<line x1="697.90" y1="807.25" x2="701.50" y2="807.25" stroke="#555" stroke-width="1.1"/>
<line x1="697.90" y1="797.83" x2="701.50" y2="797.83" stroke="#555" stroke-width="1.1"/>
<line x1="694.70" y1="788.40" x2="701.50" y2="788.40" stroke="#333" stroke-width="1.3"/>
<text x="692.20" y="793.50" font-size="15.43" fill="#111" stroke="#111" stroke-width="0.3" text-anchor="end" textLength="19.10" lengthAdjust="spacingAndGlyphs">80</text>
<line x1="697.90" y1="778.98" x2="701.50" y2="778.98" stroke="#555" stroke-width="1.1"/>
<line x1="697.90" y1="769.55" x2="701.50" y2="769.55" stroke="#555" stroke-width="1.1"/>
<line x1="790.82" y1="939.20" x2="790.82" y2="943.20" stroke="#222" stroke-width="1.5"/>
<line x1="809.46" y1="939.20" x2="809.46" y2="941.80" stroke="#444" stroke-width="1.0"/>
<line x1="820.36" y1="939.20" x2="820.36" y2="941.80" stroke="#444" stroke-width="1.0"/>
<line x1="828.10" y1="939.20" x2="828.10" y2="941.80" stroke="#444" stroke-width="1.0"/>
<line x1="834.10" y1="939.20" x2="834.10" y2="941.80" stroke="#444" stroke-width="1.0"/>
<line x1="839.00" y1="939.20" x2="839.00" y2="941.80" stroke="#444" stroke-width="1.0"/>
<line x1="843.15" y1="939.20" x2="843.15" y2="941.80" stroke="#444" stroke-width="1.0"/>
<line x1="846.74" y1="939.20" x2="846.74" y2="941.80" stroke="#444" stroke-width="1.0"/>
<line x1="849.91" y1="939.20" x2="849.91" y2="941.80" stroke="#444" stroke-width="1.0"/>
<line x1="714.97" y1="939.20" x2="714.97" y2="943.20" stroke="#222" stroke-width="1.5"/>
<line x1="852.74" y1="939.20" x2="852.74" y2="943.20" stroke="#222" stroke-width="1.5"/>
<line x1="869.58" y1="939.20" x2="869.58" y2="941.80" stroke="#444" stroke-width="1.0"/>
<line x1="879.43" y1="939.20" x2="879.43" y2="941.80" stroke="#444" stroke-width="1.0"/>
<line x1="886.42" y1="939.20" x2="886.42" y2="941.80" stroke="#444" stroke-width="1.0"/>
<line x1="891.84" y1="939.20" x2="891.84" y2="941.80" stroke="#444" stroke-width="1.0"/>
<line x1="896.27" y1="939.20" x2="896.27" y2="941.80" stroke="#444" stroke-width="1.0"/>
<line x1="900.02" y1="939.20" x2="900.02" y2="941.80" stroke="#444" stroke-width="1.0"/>
<line x1="903.26" y1="939.20" x2="903.26" y2="941.80" stroke="#444" stroke-width="1.0"/>
<line x1="906.12" y1="939.20" x2="906.12" y2="941.80" stroke="#444" stroke-width="1.0"/>
<line x1="908.68" y1="939.20" x2="908.68" y2="943.20" stroke="#222" stroke-width="1.5"/>
<line x1="925.52" y1="939.20" x2="925.52" y2="941.80" stroke="#444" stroke-width="1.0"/>
<line x1="756.74" y1="939.20" x2="756.74" y2="941.40" stroke="#444" stroke-width="1.0"/>
<line x1="760.52" y1="939.20" x2="760.52" y2="941.40" stroke="#444" stroke-width="1.0"/>
<line x1="764.31" y1="939.20" x2="764.31" y2="941.40" stroke="#444" stroke-width="1.0"/>
<line x1="768.10" y1="939.20" x2="768.10" y2="941.40" stroke="#444" stroke-width="1.0"/>
<line x1="771.88" y1="939.20" x2="771.88" y2="941.40" stroke="#444" stroke-width="1.0"/>
<line x1="775.67" y1="939.20" x2="775.67" y2="941.40" stroke="#444" stroke-width="1.0"/>
<line x1="779.46" y1="939.20" x2="779.46" y2="941.40" stroke="#444" stroke-width="1.0"/>
<line x1="783.24" y1="939.20" x2="783.24" y2="941.40" stroke="#444" stroke-width="1.0"/>
<line x1="787.03" y1="939.20" x2="787.03" y2="941.40" stroke="#444" stroke-width="1.0"/>
<line x1="749.15" y1="939.20" x2="749.15" y2="941.40" stroke="#444" stroke-width="1.0"/>
<line x1="745.35" y1="939.20" x2="745.35" y2="941.40" stroke="#444" stroke-width="1.0"/>
<line x1="741.55" y1="939.20" x2="741.55" y2="941.40" stroke="#444" stroke-width="1.0"/>
<line x1="737.76" y1="939.20" x2="737.76" y2="941.40" stroke="#444" stroke-width="1.0"/>
<line x1="733.96" y1="939.20" x2="733.96" y2="941.40" stroke="#444" stroke-width="1.0"/>
<line x1="730.16" y1="939.20" x2="730.16" y2="941.40" stroke="#444" stroke-width="1.0"/>
<line x1="726.36" y1="939.20" x2="726.36" y2="941.40" stroke="#444" stroke-width="1.0"/>
<line x1="722.56" y1="939.20" x2="722.56" y2="941.40" stroke="#444" stroke-width="1.0"/>
<line x1="718.76" y1="939.20" x2="718.76" y2="941.40" stroke="#444" stroke-width="1.0"/>
<rect x="748.95" y="939.20" width="8.00" height="3.20" fill="#111" stroke="none" stroke-width="0"/>
<path d="M755.9,1131.1 L763.3,1128.9 L769.3,1121.5 L773.7,1109.6 L778.1,1093.3 L782.6,1078.5 L786.3,1068.1 L790.3,1056.3 L793.0,1060.7 L795.9,1063.7 L798.9,1069.6 L801.1,1066.7 L803.3,1072.6 L806.3,1077.0 L810.0,1078.5 L812.2,1082.2 L816.7,1078.5 L821.1,1075.6 L824.1,1072.6 L827.0,1066.7 L830.7,1054.8 L834.4,1048.9 L837.4,1031.1 L840.4,1022.2 L842.6,1014.8 L845.6,1005.9 L848.5,983.7 L852.2,982.2 L855.9,966.7 L859.6,976.3 L863.3,1001.5 L864.8,1008.9 L867.0,1028.1 L870.0,1045.9 L873.0,1060.7 L875.2,1087.4 L877.4,1102.2 L880.4,1115.6 L884.1,1124.4 L890.0,1130.4 L890.0,1131.0 L755.9,1131.0 Z" fill="#999999" stroke="none" stroke-width="0"/>
<path d="M755.9,1131.1 L763.3,1128.9 L769.3,1121.5 L773.7,1109.6 L778.1,1093.3 L782.6,1078.5 L786.3,1068.1 L790.3,1056.3 L793.0,1060.7 L795.9,1063.7 L798.9,1069.6 L801.1,1066.7 L803.3,1072.6 L806.3,1077.0 L810.0,1078.5 L812.2,1082.2 L816.7,1078.5 L821.1,1075.6 L824.1,1072.6 L827.0,1066.7 L830.7,1054.8 L834.4,1048.9 L837.4,1031.1 L840.4,1022.2 L842.6,1014.8 L845.6,1005.9 L848.5,983.7 L852.2,982.2 L855.9,966.7 L859.6,976.3 L863.3,1001.5 L864.8,1008.9 L867.0,1028.1 L870.0,1045.9 L873.0,1060.7 L875.2,1087.4 L877.4,1102.2 L880.4,1115.6 L884.1,1124.4 L890.0,1130.4" fill="none" stroke="#000" stroke-width="1.65" stroke-linejoin="round"/>
<rect x="705.60" y="950.40" width="232.80" height="180.60" fill="none" stroke="#555" stroke-width="1.2"/>
<line x1="698.80" y1="1131.00" x2="705.60" y2="1131.00" stroke="#333" stroke-width="1.3"/>
<text x="696.30" y="1136.10" font-size="15.43" fill="#111" stroke="#111" stroke-width="0.3" text-anchor="end" textLength="10.35" lengthAdjust="spacingAndGlyphs">0</text>
<line x1="702.00" y1="1124.45" x2="705.60" y2="1124.45" stroke="#555" stroke-width="1.1"/>
<line x1="702.00" y1="1117.90" x2="705.60" y2="1117.90" stroke="#555" stroke-width="1.1"/>
<line x1="702.00" y1="1111.34" x2="705.60" y2="1111.34" stroke="#555" stroke-width="1.1"/>
<line x1="702.00" y1="1104.79" x2="705.60" y2="1104.79" stroke="#555" stroke-width="1.1"/>
<line x1="698.80" y1="1098.24" x2="705.60" y2="1098.24" stroke="#333" stroke-width="1.3"/>
<text x="696.30" y="1103.34" font-size="15.43" fill="#111" stroke="#111" stroke-width="0.3" text-anchor="end" textLength="19.10" lengthAdjust="spacingAndGlyphs">50</text>
<line x1="702.00" y1="1091.69" x2="705.60" y2="1091.69" stroke="#555" stroke-width="1.1"/>
<line x1="702.00" y1="1085.14" x2="705.60" y2="1085.14" stroke="#555" stroke-width="1.1"/>
<line x1="702.00" y1="1078.58" x2="705.60" y2="1078.58" stroke="#555" stroke-width="1.1"/>
<line x1="702.00" y1="1072.03" x2="705.60" y2="1072.03" stroke="#555" stroke-width="1.1"/>
<line x1="698.80" y1="1065.48" x2="705.60" y2="1065.48" stroke="#333" stroke-width="1.3"/>
<text x="696.30" y="1070.58" font-size="15.43" fill="#111" stroke="#111" stroke-width="0.3" text-anchor="end" textLength="27.85" lengthAdjust="spacingAndGlyphs">100</text>
<line x1="702.00" y1="1058.93" x2="705.60" y2="1058.93" stroke="#555" stroke-width="1.1"/>
<line x1="702.00" y1="1052.38" x2="705.60" y2="1052.38" stroke="#555" stroke-width="1.1"/>
<line x1="702.00" y1="1045.82" x2="705.60" y2="1045.82" stroke="#555" stroke-width="1.1"/>
<line x1="702.00" y1="1039.27" x2="705.60" y2="1039.27" stroke="#555" stroke-width="1.1"/>
<line x1="698.80" y1="1032.72" x2="705.60" y2="1032.72" stroke="#333" stroke-width="1.3"/>
<text x="696.30" y="1037.82" font-size="15.43" fill="#111" stroke="#111" stroke-width="0.3" text-anchor="end" textLength="27.85" lengthAdjust="spacingAndGlyphs">150</text>
<line x1="702.00" y1="1026.17" x2="705.60" y2="1026.17" stroke="#555" stroke-width="1.1"/>
<line x1="702.00" y1="1019.62" x2="705.60" y2="1019.62" stroke="#555" stroke-width="1.1"/>
<line x1="702.00" y1="1013.06" x2="705.60" y2="1013.06" stroke="#555" stroke-width="1.1"/>
<line x1="702.00" y1="1006.51" x2="705.60" y2="1006.51" stroke="#555" stroke-width="1.1"/>
<line x1="698.80" y1="999.96" x2="705.60" y2="999.96" stroke="#333" stroke-width="1.3"/>
<text x="696.30" y="1005.06" font-size="15.43" fill="#111" stroke="#111" stroke-width="0.3" text-anchor="end" textLength="27.85" lengthAdjust="spacingAndGlyphs">200</text>
<line x1="702.00" y1="993.41" x2="705.60" y2="993.41" stroke="#555" stroke-width="1.1"/>
<line x1="702.00" y1="986.86" x2="705.60" y2="986.86" stroke="#555" stroke-width="1.1"/>
<line x1="702.00" y1="980.30" x2="705.60" y2="980.30" stroke="#555" stroke-width="1.1"/>
<line x1="702.00" y1="973.75" x2="705.60" y2="973.75" stroke="#555" stroke-width="1.1"/>
<line x1="698.80" y1="967.20" x2="705.60" y2="967.20" stroke="#333" stroke-width="1.3"/>
<text x="696.30" y="972.30" font-size="15.43" fill="#111" stroke="#111" stroke-width="0.3" text-anchor="end" textLength="27.85" lengthAdjust="spacingAndGlyphs">250</text>
<line x1="702.00" y1="960.65" x2="705.60" y2="960.65" stroke="#555" stroke-width="1.1"/>
<line x1="702.00" y1="954.10" x2="705.60" y2="954.10" stroke="#555" stroke-width="1.1"/>
<line x1="795.93" y1="1131.00" x2="795.93" y2="1135.00" stroke="#222" stroke-width="1.5"/>
<line x1="814.78" y1="1131.00" x2="814.78" y2="1133.60" stroke="#444" stroke-width="1.0"/>
<line x1="825.81" y1="1131.00" x2="825.81" y2="1133.60" stroke="#444" stroke-width="1.0"/>
<line x1="833.63" y1="1131.00" x2="833.63" y2="1133.60" stroke="#444" stroke-width="1.0"/>
<line x1="839.70" y1="1131.00" x2="839.70" y2="1133.60" stroke="#444" stroke-width="1.0"/>
<line x1="844.66" y1="1131.00" x2="844.66" y2="1133.60" stroke="#444" stroke-width="1.0"/>
<line x1="848.85" y1="1131.00" x2="848.85" y2="1133.60" stroke="#444" stroke-width="1.0"/>
<line x1="852.48" y1="1131.00" x2="852.48" y2="1133.60" stroke="#444" stroke-width="1.0"/>
<line x1="855.68" y1="1131.00" x2="855.68" y2="1133.60" stroke="#444" stroke-width="1.0"/>
<line x1="719.22" y1="1131.00" x2="719.22" y2="1135.00" stroke="#222" stroke-width="1.5"/>
<line x1="858.55" y1="1131.00" x2="858.55" y2="1135.00" stroke="#222" stroke-width="1.5"/>
<line x1="875.58" y1="1131.00" x2="875.58" y2="1133.60" stroke="#444" stroke-width="1.0"/>
<line x1="885.54" y1="1131.00" x2="885.54" y2="1133.60" stroke="#444" stroke-width="1.0"/>
<line x1="892.61" y1="1131.00" x2="892.61" y2="1133.60" stroke="#444" stroke-width="1.0"/>
<line x1="898.09" y1="1131.00" x2="898.09" y2="1133.60" stroke="#444" stroke-width="1.0"/>
<line x1="902.57" y1="1131.00" x2="902.57" y2="1133.60" stroke="#444" stroke-width="1.0"/>
<line x1="906.36" y1="1131.00" x2="906.36" y2="1133.60" stroke="#444" stroke-width="1.0"/>
<line x1="909.64" y1="1131.00" x2="909.64" y2="1133.60" stroke="#444" stroke-width="1.0"/>
<line x1="912.53" y1="1131.00" x2="912.53" y2="1133.60" stroke="#444" stroke-width="1.0"/>
<line x1="915.12" y1="1131.00" x2="915.12" y2="1135.00" stroke="#222" stroke-width="1.5"/>
<line x1="932.15" y1="1131.00" x2="932.15" y2="1133.60" stroke="#444" stroke-width="1.0"/>
<line x1="761.46" y1="1131.00" x2="761.46" y2="1133.20" stroke="#444" stroke-width="1.0"/>
<line x1="765.29" y1="1131.00" x2="765.29" y2="1133.20" stroke="#444" stroke-width="1.0"/>
<line x1="769.12" y1="1131.00" x2="769.12" y2="1133.20" stroke="#444" stroke-width="1.0"/>
<line x1="772.95" y1="1131.00" x2="772.95" y2="1133.20" stroke="#444" stroke-width="1.0"/>
<line x1="776.78" y1="1131.00" x2="776.78" y2="1133.20" stroke="#444" stroke-width="1.0"/>
<line x1="780.61" y1="1131.00" x2="780.61" y2="1133.20" stroke="#444" stroke-width="1.0"/>
<line x1="784.44" y1="1131.00" x2="784.44" y2="1133.20" stroke="#444" stroke-width="1.0"/>
<line x1="788.27" y1="1131.00" x2="788.27" y2="1133.20" stroke="#444" stroke-width="1.0"/>
<line x1="792.10" y1="1131.00" x2="792.10" y2="1133.20" stroke="#444" stroke-width="1.0"/>
<line x1="753.79" y1="1131.00" x2="753.79" y2="1133.20" stroke="#444" stroke-width="1.0"/>
<line x1="749.95" y1="1131.00" x2="749.95" y2="1133.20" stroke="#444" stroke-width="1.0"/>
<line x1="746.11" y1="1131.00" x2="746.11" y2="1133.20" stroke="#444" stroke-width="1.0"/>
<line x1="742.27" y1="1131.00" x2="742.27" y2="1133.20" stroke="#444" stroke-width="1.0"/>
<line x1="738.42" y1="1131.00" x2="738.42" y2="1133.20" stroke="#444" stroke-width="1.0"/>
<line x1="734.58" y1="1131.00" x2="734.58" y2="1133.20" stroke="#444" stroke-width="1.0"/>
<line x1="730.74" y1="1131.00" x2="730.74" y2="1133.20" stroke="#444" stroke-width="1.0"/>
<line x1="726.90" y1="1131.00" x2="726.90" y2="1133.20" stroke="#444" stroke-width="1.0"/>
<line x1="723.06" y1="1131.00" x2="723.06" y2="1133.20" stroke="#444" stroke-width="1.0"/>
<rect x="753.63" y="1131.00" width="8.00" height="3.20" fill="#111" stroke="none" stroke-width="0"/>
<text x="707.00" y="1153.20" font-size="15.41" fill="#111" stroke="#111" stroke-width="0.3" textLength="22.30" lengthAdjust="spacingAndGlyphs">-10</text>
<text x="729.80" y="1147.60" font-size="10.47" fill="#111" stroke="#111" stroke-width="0.3" textLength="6.60" lengthAdjust="spacingAndGlyphs">3</text>
<text x="758.30" y="1153.20" font-size="15.41" fill="#111" stroke="#111" stroke-width="0.3" textLength="9.00" lengthAdjust="spacingAndGlyphs">0</text>
<text x="788.00" y="1153.20" font-size="15.41" fill="#111" stroke="#111" stroke-width="0.3" textLength="16.60" lengthAdjust="spacingAndGlyphs">10</text>
<text x="805.00" y="1147.60" font-size="10.47" fill="#111" stroke="#111" stroke-width="0.3" textLength="6.60" lengthAdjust="spacingAndGlyphs">3</text>
<text x="850.00" y="1153.20" font-size="15.41" fill="#111" stroke="#111" stroke-width="0.3" textLength="16.60" lengthAdjust="spacingAndGlyphs">10</text>
<text x="867.00" y="1147.60" font-size="10.47" fill="#111" stroke="#111" stroke-width="0.3" textLength="6.60" lengthAdjust="spacingAndGlyphs">4</text>
<text x="905.40" y="1153.20" font-size="15.41" fill="#111" stroke="#111" stroke-width="0.3" textLength="16.60" lengthAdjust="spacingAndGlyphs">10</text>
<text x="922.40" y="1147.60" font-size="10.47" fill="#111" stroke="#111" stroke-width="0.3" textLength="6.60" lengthAdjust="spacingAndGlyphs">5</text>
<text x="842.80" y="50.40" font-size="19.77" fill="#000" stroke="#000" stroke-width="0.45" font-weight="bold" textLength="61.80" lengthAdjust="spacingAndGlyphs">CD103</text>
<rect x="905.10" y="38.80" width="3.70" height="1.60" fill="#000" stroke="none" stroke-width="0"/>
<text x="842.80" y="77.70" font-size="19.77" fill="#000" stroke="#000" stroke-width="0.45" font-weight="bold" textLength="62.00" lengthAdjust="spacingAndGlyphs">CD11b</text>
<rect x="905.00" y="67.20" width="4.50" height="1.60" fill="#000" stroke="none" stroke-width="0"/>
<text x="845.20" y="231.70" font-size="19.77" fill="#706b72" stroke="#706b72" stroke-width="0.45" font-weight="bold" textLength="61.50" lengthAdjust="spacingAndGlyphs">CD103</text>
<line x1="906.90" y1="221.40" x2="914.10" y2="221.40" stroke="#706b72" stroke-width="1.7"/>
<line x1="910.50" y1="218.50" x2="910.50" y2="224.30" stroke="#706b72" stroke-width="1.7"/>
<text x="845.20" y="259.20" font-size="19.77" fill="#706b72" stroke="#706b72" stroke-width="0.45" font-weight="bold" textLength="61.70" lengthAdjust="spacingAndGlyphs">CD11b</text>
<rect x="906.50" y="248.40" width="4.80" height="1.60" fill="#706b72" stroke="none" stroke-width="0"/>
<text x="830.90" y="413.50" font-size="19.77" fill="#0fa8ea" stroke="#0fa8ea" stroke-width="0.45" font-weight="bold" textLength="61.40" lengthAdjust="spacingAndGlyphs">CD103</text>
<line x1="892.50" y1="403.15" x2="900.30" y2="403.15" stroke="#0fa8ea" stroke-width="1.7"/>
<line x1="896.40" y1="400.10" x2="896.40" y2="406.20" stroke="#0fa8ea" stroke-width="1.7"/>
<text x="830.90" y="441.50" font-size="19.77" fill="#0fa8ea" stroke="#0fa8ea" stroke-width="0.45" font-weight="bold" textLength="60.80" lengthAdjust="spacingAndGlyphs">CD11b</text>
<text x="894.10" y="435.10" font-size="13.66" fill="#0fa8ea" stroke="#0fa8ea" stroke-width="0.45" font-weight="bold" textLength="22.90" lengthAdjust="spacingAndGlyphs">low</text>
<text x="718.30" y="598.90" font-size="19.77" fill="#ff0000" stroke="#ff0000" stroke-width="0.45" font-weight="bold" textLength="61.90" lengthAdjust="spacingAndGlyphs">CD103</text>
<line x1="780.50" y1="588.95" x2="787.90" y2="588.95" stroke="#ff0000" stroke-width="1.7"/>
<line x1="784.20" y1="586.00" x2="784.20" y2="591.90" stroke="#ff0000" stroke-width="1.7"/>
<text x="718.30" y="626.20" font-size="19.77" fill="#ff0000" stroke="#ff0000" stroke-width="0.45" font-weight="bold" textLength="61.90" lengthAdjust="spacingAndGlyphs">CD11b</text>
<text x="780.90" y="619.50" font-size="13.24" fill="#ff0000" stroke="#ff0000" stroke-width="0.45" font-weight="bold" textLength="27.50" lengthAdjust="spacingAndGlyphs">high</text>
<text x="835.40" y="785.90" font-size="19.77" fill="#2010b4" stroke="#2010b4" stroke-width="0.45" font-weight="bold" textLength="61.60" lengthAdjust="spacingAndGlyphs">CD103</text>
<rect x="897.50" y="775.70" width="4.00" height="1.60" fill="#2010b4" stroke="none" stroke-width="0"/>
<text x="835.40" y="813.20" font-size="19.77" fill="#2010b4" stroke="#2010b4" stroke-width="0.45" font-weight="bold" textLength="60.40" lengthAdjust="spacingAndGlyphs">CD11b</text>
<text x="898.80" y="807.20" font-size="10.90" fill="#2010b4" stroke="#2010b4" stroke-width="0.45" font-weight="bold" textLength="21.70" lengthAdjust="spacingAndGlyphs">low</text>
<text x="723.30" y="978.30" font-size="19.77" fill="#c0561a" stroke="#c0561a" stroke-width="0.3" textLength="61.30" lengthAdjust="spacingAndGlyphs">CD103</text>
<rect x="785.10" y="968.20" width="3.80" height="1.60" fill="#c0561a" stroke="none" stroke-width="0"/>
<text x="723.30" y="1006.20" font-size="19.77" fill="#c0561a" stroke="#c0561a" stroke-width="0.3" textLength="61.90" lengthAdjust="spacingAndGlyphs">CD11b</text>
<text x="785.30" y="998.60" font-size="13.52" fill="#c0561a" stroke="#c0561a" stroke-width="0.3" textLength="25.80" lengthAdjust="spacingAndGlyphs">high</text>
</svg>
</body></html>
